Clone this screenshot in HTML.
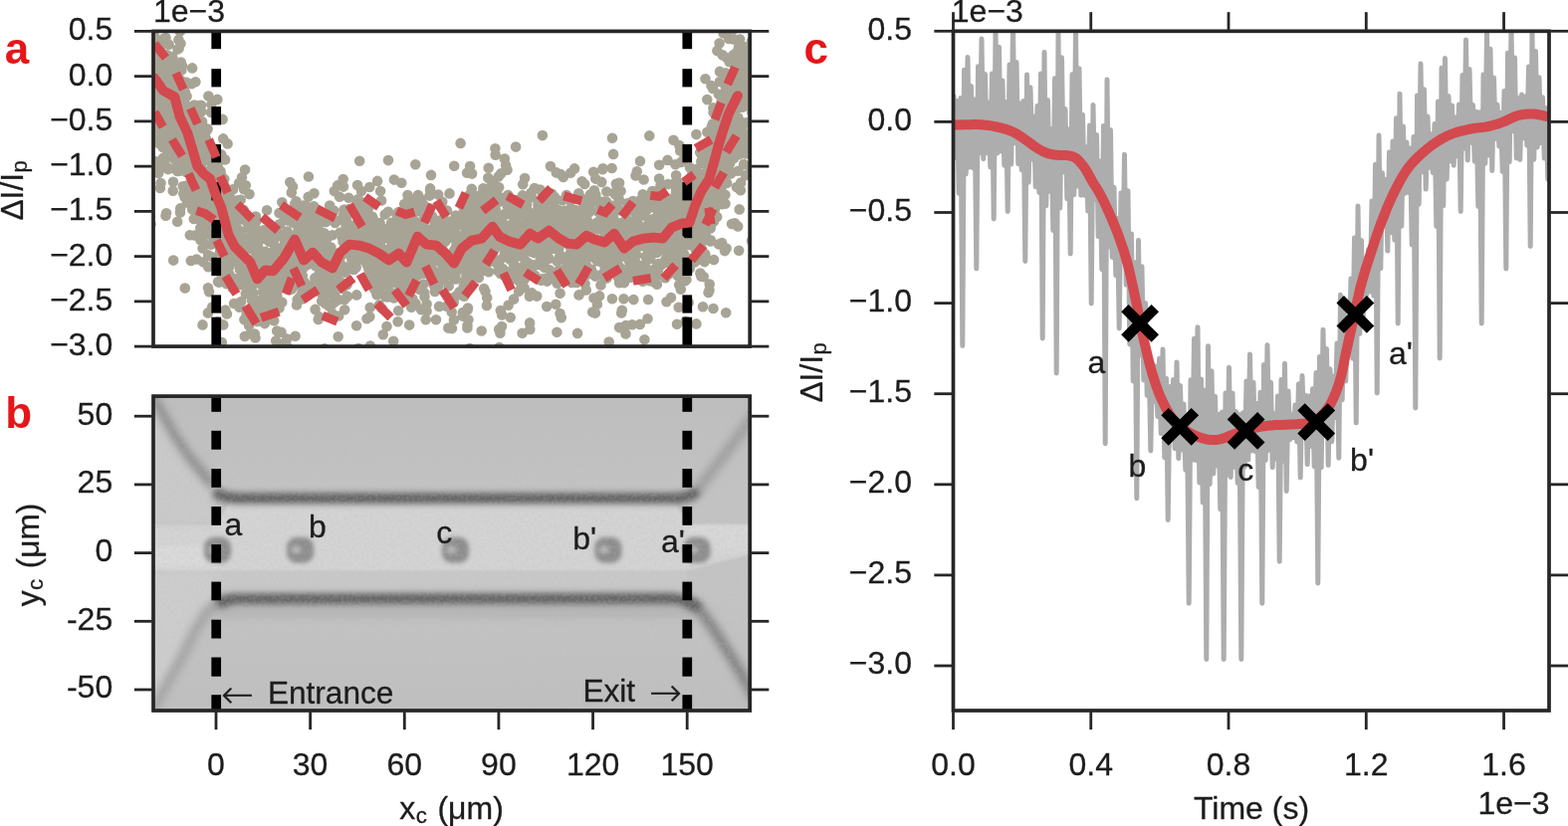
<!DOCTYPE html>
<html lang="en">
<head>
<meta charset="utf-8">
<title>Figure</title>
<style>
html,body{margin:0;padding:0;background:#fff;}
body{width:1575px;height:830px;overflow:hidden;}
svg{display:block;font-family:"Liberation Sans",sans-serif;}
text{stroke:#1c1c1c;stroke-width:0.3px;paint-order:stroke;}
text.pl{stroke:none;}
</style>
</head>
<body>
<svg width="1575" height="830" viewBox="0 0 1575 830">
<rect x="0" y="0" width="1575" height="830" fill="#ffffff"/>
<clipPath id="clipA"><rect x="154.00" y="31.40" width="599.20" height="316.70"/></clipPath>
<path d="M719.0,202.8h0M725.3,99.6h0M161.7,84.2h0M267.6,240.4h0M578.9,269.9h0M578.4,282.0h0M540.5,247.6h0M535.1,266.8h0M560.5,218.9h0M527.1,179.1h0M203.1,122.3h0M716.6,112.9h0M697.5,197.3h0M196.1,177.2h0M172.8,88.8h0M544.1,280.2h0M724.0,129.9h0M737.0,124.4h0M228.7,219.3h0M241.7,200.8h0M215.3,192.8h0M309.9,217.3h0M185.0,109.8h0M465.4,241.6h0M271.8,258.3h0M468.9,230.9h0M201.4,219.7h0M294.4,253.3h0M448.6,307.8h0M174.6,159.2h0M637.6,209.1h0M400.4,222.4h0M664.2,249.8h0M474.5,202.0h0M189.4,186.9h0M209.2,235.4h0M550.2,213.4h0M391.2,254.9h0M714.5,86.1h0M179.6,48.8h0M198.5,200.0h0M330.3,265.1h0M612.4,256.8h0M278.2,332.5h0M316.6,267.0h0M736.6,62.9h0M701.0,231.6h0M520.2,271.8h0M378.7,267.2h0M694.9,205.6h0M693.0,193.3h0M674.7,244.8h0M427.3,212.3h0M188.2,107.9h0M527.2,200.7h0M150.6,216.9h0M287.0,234.5h0M208.9,314.4h0M157.6,60.7h0M326.0,282.0h0M738.2,89.8h0M703.2,153.2h0M376.5,269.2h0M225.0,245.5h0M183.7,106.5h0M441.4,232.4h0M631.9,250.3h0M696.2,196.9h0M641.3,217.8h0M172.3,100.0h0M441.6,221.6h0M241.9,242.1h0M289.6,246.8h0M202.8,197.0h0M491.6,235.4h0M683.7,210.0h0M363.0,251.0h0M723.7,173.9h0M158.0,91.5h0M258.9,270.1h0M737.2,158.9h0M286.0,239.7h0M730.9,118.5h0M619.1,267.2h0M594.8,258.1h0M656.9,192.2h0M593.6,241.1h0M466.8,262.7h0M732.1,94.0h0M753.3,103.1h0M550.2,202.4h0M475.2,231.2h0M291.3,183.0h0M702.1,222.7h0M205.9,141.1h0M612.8,218.2h0M230.7,225.1h0M551.2,260.1h0M413.3,282.0h0M262.7,256.3h0M535.4,266.2h0M227.7,242.6h0M565.9,225.4h0M177.3,120.3h0M623.0,240.4h0M352.7,226.6h0M435.4,263.1h0M580.7,263.7h0M659.2,249.8h0M531.9,297.8h0M647.6,241.6h0M471.3,208.4h0M686.8,255.0h0M209.0,289.3h0M209.2,268.3h0M424.2,254.0h0M704.3,162.3h0M725.7,157.5h0M726.0,138.3h0M731.9,104.5h0M203.3,154.3h0M654.8,249.1h0M193.7,151.0h0M273.6,279.6h0M371.9,220.4h0M666.1,237.6h0M713.0,187.2h0M445.9,220.1h0M166.8,105.3h0M174.4,98.0h0M498.7,233.0h0M717.2,147.5h0M466.1,297.8h0M292.3,270.6h0M722.1,245.4h0M679.7,262.3h0M509.4,206.3h0M389.2,275.1h0M223.9,233.9h0M224.5,225.6h0M357.4,210.6h0M558.0,250.2h0M381.5,283.5h0M647.4,341.2h0M703.4,274.6h0M279.9,282.8h0M403.6,288.5h0M488.2,241.9h0M588.9,232.6h0M638.1,263.1h0M547.1,215.0h0M669.0,263.8h0M596.2,228.6h0M459.8,237.9h0M183.8,146.0h0M736.8,55.0h0M187.1,135.6h0M510.6,306.7h0M197.5,260.5h0M565.0,201.3h0M317.5,254.6h0M163.5,92.5h0M464.0,205.7h0M708.1,178.6h0M167.4,101.9h0M757.7,99.5h0M394.0,282.2h0M384.7,260.8h0M473.9,237.7h0M569.3,261.6h0M188.0,203.4h0M644.7,246.9h0M329.5,269.2h0M732.2,30.2h0M272.2,276.5h0M741.2,227.4h0M273.0,286.9h0M582.0,266.1h0M484.7,234.8h0M203.1,160.0h0M506.8,159.6h0M208.6,222.5h0M469.0,224.9h0M689.5,281.1h0M182.3,128.5h0M149.2,153.2h0M245.3,263.6h0M240.6,231.8h0M201.4,121.6h0M169.2,126.3h0M468.3,270.9h0M640.1,243.3h0M691.1,242.6h0M281.3,249.2h0M731.5,122.2h0M696.1,217.7h0M665.6,233.3h0M680.0,325.8h0M503.4,232.2h0M553.1,203.3h0M441.2,274.2h0M236.9,209.8h0M674.7,244.3h0M170.9,99.3h0M186.9,147.1h0M730.2,78.9h0M504.5,270.9h0M198.3,132.7h0M727.1,139.1h0M289.5,221.6h0M715.3,194.3h0M586.5,222.6h0M622.2,278.9h0M219.4,198.6h0M740.6,149.7h0M452.0,271.9h0M170.3,66.7h0M699.5,170.1h0M297.8,208.9h0M711.2,204.5h0M737.6,62.0h0M390.0,161.1h0M213.2,308.6h0M180.2,120.7h0M226.3,230.2h0M420.4,229.8h0M218.2,232.8h0M722.6,43.5h0M436.7,253.0h0M480.6,223.9h0M237.7,228.7h0M237.0,223.7h0M192.0,188.9h0M476.5,265.7h0M293.0,275.1h0M637.3,253.8h0M450.7,287.4h0M466.1,245.9h0M293.2,258.6h0M720.2,169.4h0M529.4,214.4h0M725.9,55.4h0M232.0,254.1h0M416.2,258.4h0M286.0,245.0h0M296.1,257.9h0M604.8,226.6h0M207.2,140.1h0M168.3,73.9h0M498.0,211.5h0M517.5,209.6h0M656.1,278.0h0M425.5,267.7h0M464.1,263.5h0M401.3,295.3h0M454.0,330.1h0M264.6,286.3h0M514.6,234.5h0M616.1,154.9h0M181.0,164.8h0M211.9,245.8h0M413.5,233.7h0M284.5,248.7h0M248.6,278.7h0M701.9,221.3h0M407.9,210.8h0M403.6,285.7h0M750.1,94.4h0M582.1,245.8h0M702.2,175.9h0M727.7,171.5h0M281.2,285.9h0M170.9,104.3h0M393.1,271.6h0M678.3,235.0h0M562.7,228.0h0M431.6,196.6h0M473.9,278.9h0M487.0,227.8h0M558.3,305.8h0M205.1,159.7h0M712.5,175.5h0M487.5,198.8h0M217.1,171.5h0M652.3,136.4h0M741.6,125.5h0M444.3,246.5h0M340.7,286.3h0M746.7,84.1h0M549.2,308.0h0M556.6,231.6h0M727.7,147.1h0M507.4,241.0h0M728.8,73.4h0M389.9,212.8h0M442.9,280.5h0M202.6,151.6h0M671.9,254.9h0M265.9,325.1h0M733.1,94.7h0M309.7,197.7h0M743.0,147.1h0M686.4,215.9h0M447.4,242.6h0M279.2,291.3h0M534.2,198.0h0M326.3,296.0h0M583.7,262.0h0M484.9,263.1h0M514.4,208.1h0M462.3,267.5h0M171.3,120.0h0M382.8,271.4h0M347.4,238.3h0M641.3,230.1h0M687.1,199.7h0M711.8,168.0h0M395.1,270.1h0M742.7,133.8h0M298.5,261.7h0M630.7,272.6h0M278.6,263.2h0M313.9,254.7h0M519.7,253.1h0M269.5,261.1h0M602.2,230.4h0M371.2,262.6h0M683.8,202.7h0M198.4,149.1h0M656.6,220.1h0M491.8,198.6h0M561.3,237.4h0M253.5,274.6h0M614.3,263.3h0M248.4,219.5h0M703.9,181.0h0M357.7,268.7h0M622.1,201.5h0M300.6,299.0h0M451.5,194.4h0M207.7,179.0h0M407.3,256.6h0M450.9,230.2h0M378.5,236.8h0M708.5,79.3h0M394.6,230.2h0M245.0,190.2h0M484.7,193.8h0M202.1,126.4h0M264.8,238.2h0M678.7,231.2h0M218.9,206.9h0M512.7,319.0h0M173.4,113.4h0M636.8,257.9h0M376.4,247.1h0M179.2,69.2h0M572.8,209.9h0M148.1,96.1h0M587.2,185.0h0M325.8,257.0h0M623.3,247.4h0M536.9,222.4h0M551.6,247.5h0M357.8,228.2h0M242.7,271.5h0M167.1,106.0h0M561.9,258.8h0M347.5,211.7h0M152.4,71.3h0M153.9,84.9h0M507.4,249.1h0M292.3,240.5h0M457.3,276.5h0M395.8,296.7h0M229.5,204.2h0M755.0,241.9h0M645.7,195.3h0M163.5,148.0h0M415.5,255.8h0M197.5,159.8h0M750.1,49.6h0M366.2,280.5h0M466.9,251.0h0M681.1,261.6h0M607.0,273.0h0M664.7,234.1h0M382.5,252.5h0M668.3,279.2h0M367.5,226.4h0M501.5,261.9h0M402.9,215.3h0M753.9,97.1h0M297.8,235.8h0M616.9,254.6h0M665.2,205.7h0M681.2,223.3h0M515.8,254.4h0M192.2,129.9h0M731.4,86.4h0M682.3,146.0h0M670.5,160.9h0M305.4,257.9h0M548.1,227.8h0M584.6,182.2h0M494.9,259.6h0M658.0,205.4h0M300.3,237.9h0M698.1,204.6h0M697.7,208.6h0M702.3,202.5h0M195.3,136.6h0M584.6,199.8h0M206.7,234.5h0M424.7,204.7h0M441.5,232.1h0M584.8,222.7h0M540.1,235.6h0M552.3,223.0h0M548.4,224.3h0M221.4,186.1h0M432.1,190.7h0M193.1,143.2h0M204.1,145.9h0M688.4,219.8h0M276.4,304.0h0M413.4,266.1h0M472.1,167.0h0M749.7,154.4h0M738.0,224.2h0M742.9,190.3h0M160.3,56.0h0M729.9,85.4h0M626.9,232.5h0M592.0,224.3h0M231.8,247.9h0M562.5,260.7h0M197.1,106.3h0M443.3,257.9h0M340.2,317.5h0M568.7,280.0h0M325.7,238.9h0M471.8,350.1h0M751.5,153.2h0M437.0,253.2h0M579.9,242.8h0M213.2,258.3h0M676.3,232.5h0M600.4,212.5h0M220.5,210.5h0M159.7,94.0h0M532.8,198.5h0M719.3,179.2h0M553.7,249.8h0M336.3,303.5h0M148.7,113.9h0M377.0,239.4h0M205.1,204.7h0M521.8,282.7h0M210.6,182.1h0M428.6,312.6h0M558.5,249.6h0M303.5,300.4h0M737.7,133.7h0M564.2,221.1h0M281.6,225.1h0M705.4,186.9h0M496.9,209.4h0M173.4,88.1h0M243.3,263.1h0M272.2,293.5h0M694.0,177.9h0M372.1,231.0h0M419.4,242.3h0M153.3,51.9h0M361.1,261.1h0M586.8,262.6h0M598.3,260.0h0M480.7,246.9h0M399.4,239.9h0M188.5,145.2h0M154.0,65.0h0M634.6,258.7h0M699.4,243.8h0M272.7,286.3h0M509.7,229.4h0M614.3,236.7h0M715.6,161.0h0M218.9,183.4h0M350.2,198.7h0M514.7,237.0h0M489.2,299.2h0M185.9,111.9h0M280.5,225.6h0M724.6,189.1h0M314.8,226.9h0M650.2,259.3h0M296.0,270.7h0M687.0,188.2h0M640.2,231.8h0M166.5,216.8h0M574.7,230.5h0M738.7,143.8h0M180.9,115.9h0M222.2,175.7h0M735.7,137.4h0M255.5,309.6h0M488.1,254.0h0M713.9,241.2h0M686.1,220.8h0M469.7,311.2h0M171.0,142.8h0M673.8,234.9h0M566.8,211.9h0M196.6,148.7h0M599.3,276.6h0M514.1,238.0h0M170.6,63.7h0M585.7,221.3h0M510.4,259.0h0M288.8,348.8h0M629.3,220.6h0M254.8,235.4h0M668.6,232.2h0M602.6,209.3h0M234.6,279.7h0M599.8,262.2h0M484.2,220.4h0M202.1,168.2h0M445.6,274.6h0M502.8,232.9h0M716.1,177.2h0M641.9,237.2h0M540.5,205.4h0M700.9,214.1h0M571.3,213.3h0M274.6,274.3h0M185.6,97.1h0M385.8,265.1h0M215.9,200.4h0M483.1,235.0h0M210.4,190.8h0M712.5,291.4h0M512.1,273.1h0M723.7,199.7h0M738.8,87.3h0M618.9,263.9h0M414.9,221.3h0M465.0,215.2h0M653.8,251.4h0M359.6,231.8h0M630.5,258.6h0M579.7,247.9h0M237.1,263.3h0M206.1,233.9h0M271.5,288.7h0M401.6,236.0h0M711.0,171.2h0M581.5,296.4h0M294.0,223.6h0M177.0,123.5h0M433.9,235.0h0M548.1,205.8h0M341.1,197.7h0M370.4,279.1h0M366.4,213.2h0M662.3,245.1h0M570.1,229.0h0M446.7,278.6h0M471.8,195.5h0M514.7,209.9h0M486.0,205.2h0M153.5,65.5h0M209.1,217.5h0M407.2,239.9h0M391.6,240.8h0M539.8,253.9h0M609.3,192.6h0M230.6,263.3h0M746.1,83.6h0M243.5,262.0h0M608.4,227.1h0M303.8,277.1h0M429.2,212.6h0M201.6,155.1h0M530.1,221.6h0M613.2,219.6h0M681.2,207.8h0M187.8,198.9h0M332.0,263.9h0M154.6,92.8h0M455.6,239.6h0M205.7,136.7h0M255.9,226.6h0M157.7,82.5h0M745.8,62.6h0M270.7,264.1h0M476.7,225.8h0M515.7,264.5h0M472.3,243.2h0M377.2,264.3h0M238.2,216.1h0M157.7,90.1h0M361.5,245.9h0M163.6,86.0h0M718.7,167.9h0M180.1,86.5h0M374.0,243.7h0M652.8,282.2h0M740.0,92.7h0M185.3,105.5h0M729.7,152.0h0M360.4,211.0h0M613.7,250.6h0M618.6,211.7h0M327.1,255.1h0M628.5,241.6h0M661.6,217.3h0M591.5,256.0h0M242.3,265.0h0M385.1,258.6h0M314.3,215.2h0M422.7,234.5h0M533.7,253.0h0M703.5,191.7h0M214.6,197.2h0M185.3,164.4h0M743.3,151.9h0M285.4,253.7h0M592.6,228.4h0M150.2,64.8h0M738.6,20.9h0M532.2,216.9h0M527.0,215.7h0M189.3,131.5h0M552.9,167.1h0M631.8,260.1h0M285.1,250.6h0M703.4,203.5h0M400.2,312.3h0M206.3,190.8h0M684.1,248.1h0M335.3,270.6h0M642.8,325.9h0M674.6,218.8h0M404.9,285.9h0M331.9,256.1h0M161.5,184.1h0M312.6,247.2h0M376.7,284.8h0M272.6,307.5h0M427.2,236.8h0M198.3,149.8h0M492.4,190.0h0M512.8,278.0h0M748.9,144.6h0M471.1,227.4h0M683.8,187.1h0M624.2,314.5h0M219.1,199.7h0M433.8,236.1h0M638.1,209.6h0M614.5,235.0h0M648.2,233.3h0M453.1,261.9h0M228.5,208.4h0M253.8,261.0h0M733.3,145.9h0M732.0,132.4h0M196.1,144.1h0M329.4,276.3h0M195.1,207.0h0M169.6,44.7h0M594.0,245.4h0M167.1,214.2h0M227.7,279.0h0M164.3,64.7h0M375.9,235.0h0M195.9,160.3h0M736.7,137.9h0M150.5,98.1h0M440.8,235.5h0M327.3,258.4h0M302.5,285.4h0M431.6,242.0h0M696.9,228.6h0M216.0,168.7h0M457.8,280.5h0M750.1,139.8h0M531.4,224.5h0M524.6,334.7h0M355.4,270.9h0M327.4,274.8h0M579.6,240.3h0M150.2,107.3h0M438.0,321.3h0M378.6,239.8h0M270.2,266.5h0M175.1,91.5h0M343.9,290.0h0M664.2,264.7h0M192.1,149.4h0M717.5,152.9h0M689.7,203.9h0M728.1,128.6h0M645.9,272.6h0M383.5,284.2h0M493.8,220.7h0M706.8,211.4h0M669.5,259.0h0M334.6,298.0h0M267.2,237.1h0M559.7,284.7h0M738.4,39.9h0M424.3,206.2h0M289.0,272.0h0M481.5,231.7h0M168.3,72.9h0M217.6,201.5h0M391.8,268.1h0M714.4,182.7h0M411.5,271.4h0M181.6,80.9h0M401.4,256.3h0M545.4,230.6h0M569.0,268.6h0M223.8,207.5h0M407.8,299.1h0M438.6,231.0h0M480.2,202.0h0M509.3,247.8h0M745.1,46.2h0M548.3,234.1h0M466.8,208.0h0M607.2,266.6h0M427.2,270.7h0M412.0,255.9h0M279.0,252.7h0M577.9,211.0h0M463.5,262.8h0M230.3,275.5h0M421.0,267.9h0M584.8,234.2h0M717.8,211.1h0M648.5,257.8h0M219.9,159.2h0M240.1,211.5h0M159.0,141.7h0M687.7,221.0h0M450.8,270.9h0M166.9,60.1h0M304.0,260.3h0M557.0,197.9h0M264.8,231.3h0M493.0,216.3h0M547.7,246.1h0M560.7,211.1h0M324.5,297.0h0M580.4,244.5h0M224.2,139.4h0M418.0,206.0h0M155.1,36.4h0M462.8,246.5h0M244.4,215.0h0M638.3,273.6h0M735.0,131.4h0M523.3,242.8h0M632.8,228.6h0M185.9,138.2h0M151.5,225.3h0M298.6,301.3h0M223.8,252.7h0M202.2,112.3h0M611.9,272.1h0M178.5,49.4h0M340.2,269.5h0M544.1,266.8h0M233.8,236.8h0M534.2,294.4h0M500.3,272.2h0M693.5,214.0h0M207.1,149.1h0M433.0,175.9h0M199.5,192.4h0M384.8,336.3h0M720.4,51.1h0M544.0,214.8h0M309.7,292.4h0M633.5,227.0h0M705.5,237.8h0M309.9,224.1h0M759.3,31.4h0M693.3,241.5h0M517.4,208.5h0M171.1,72.5h0M358.1,237.2h0M164.2,99.2h0M692.9,168.2h0M525.6,245.4h0M215.4,177.6h0M677.8,245.5h0M678.7,256.2h0M628.7,327.0h0M683.2,151.4h0M256.0,278.6h0M299.8,263.1h0M733.0,155.5h0M381.0,306.5h0M211.9,206.8h0M677.4,199.5h0M224.7,193.2h0M283.3,345.8h0M319.2,231.7h0M432.1,189.4h0M458.3,253.1h0M269.1,260.4h0M440.6,232.6h0M193.2,190.2h0M304.7,206.6h0M728.2,250.6h0M722.0,167.4h0M756.1,173.8h0M280.5,309.4h0M489.5,220.2h0M227.3,224.2h0M339.5,258.0h0M455.1,234.9h0M370.2,222.3h0M454.3,254.6h0M485.0,254.5h0M359.6,240.6h0M238.6,222.0h0M295.1,262.9h0M706.8,214.4h0M209.1,175.4h0M226.1,160.4h0M639.8,172.2h0M423.3,206.2h0M370.8,275.2h0M570.7,241.1h0M237.2,228.9h0M501.5,349.1h0M203.5,208.1h0M590.1,238.9h0M702.2,247.6h0M663.6,235.4h0M617.4,229.3h0M150.5,85.5h0M622.5,268.6h0M697.7,192.8h0M699.7,221.1h0M178.7,28.1h0M186.9,149.6h0M211.9,178.1h0M675.5,231.8h0M732.6,62.3h0M411.9,219.8h0M515.6,242.8h0M559.4,333.7h0M442.2,242.2h0M178.7,66.8h0M313.6,263.7h0M350.3,251.5h0M716.6,156.9h0M691.6,304.1h0M705.9,234.6h0M323.8,247.5h0M558.1,225.1h0M470.0,309.5h0M209.5,208.1h0M285.2,272.8h0M569.0,196.1h0M377.8,237.4h0M666.9,206.7h0M388.5,328.0h0M210.7,152.0h0M231.7,206.0h0M506.6,232.3h0M594.2,249.7h0M699.8,220.3h0M210.1,293.2h0M553.9,232.9h0M586.5,241.4h0M259.2,233.4h0M732.8,154.0h0M203.0,239.5h0M230.2,227.9h0M217.3,243.5h0M221.4,174.7h0M606.6,228.8h0M607.0,239.2h0M205.0,143.6h0M527.7,241.3h0M591.4,213.8h0M692.8,269.7h0M617.3,211.9h0M211.9,191.9h0M231.8,261.3h0M224.8,269.7h0M246.8,186.3h0M252.5,250.3h0M206.9,174.6h0M306.4,256.4h0M686.5,276.1h0M335.8,192.1h0M456.7,231.3h0M587.6,285.2h0M704.9,155.5h0M470.2,235.7h0M514.7,209.8h0M177.4,97.6h0M208.7,183.6h0M224.2,214.3h0M566.3,236.9h0M209.7,201.5h0M674.2,249.6h0M288.6,232.6h0M186.9,153.5h0M173.6,127.5h0M262.3,286.0h0M717.1,143.4h0M465.8,287.2h0M182.9,170.3h0M160.9,189.0h0M378.6,264.2h0M238.4,244.0h0M177.9,165.4h0M462.6,293.9h0M202.9,209.8h0M434.1,217.4h0M437.9,246.3h0M749.5,67.0h0M191.8,262.0h0M176.9,75.3h0M742.8,155.0h0M388.3,231.9h0M635.0,326.3h0M734.1,143.0h0M369.0,232.3h0M456.4,279.9h0M152.5,71.6h0M734.9,85.6h0M208.1,235.0h0M590.6,222.7h0M739.9,188.0h0M408.1,298.3h0M434.2,240.5h0M743.4,102.9h0M475.2,210.5h0M347.9,219.8h0M301.8,243.3h0M713.0,161.0h0M400.3,230.6h0M699.4,135.1h0M353.3,260.6h0M620.3,241.7h0M487.5,292.7h0M257.3,257.3h0M229.4,283.9h0M646.8,235.1h0M697.4,180.4h0M708.3,149.8h0M509.6,205.9h0M581.3,214.7h0M524.9,196.4h0M370.9,284.8h0M269.3,307.6h0M727.6,158.1h0M691.9,214.2h0M469.7,244.0h0M750.5,89.9h0M246.0,276.8h0M173.0,90.3h0M549.9,251.9h0M715.0,149.3h0M598.8,240.5h0M573.2,173.7h0M230.2,216.0h0M339.1,254.6h0M166.2,77.2h0M501.1,242.7h0M524.5,287.9h0M208.1,130.4h0M730.1,184.0h0M181.3,144.2h0M627.3,234.9h0M502.8,275.0h0M158.8,63.0h0M173.7,79.8h0M747.1,135.8h0M334.9,284.1h0M716.6,151.1h0M710.4,132.7h0M373.9,217.6h0M444.3,202.8h0M527.6,250.2h0M247.6,222.7h0M726.6,168.5h0M459.6,244.2h0M686.6,206.0h0M253.7,275.7h0M392.4,282.2h0M197.8,138.6h0M636.4,301.1h0M628.2,243.3h0M595.2,313.6h0M304.5,296.9h0M328.6,249.8h0M644.4,204.1h0M190.8,236.3h0M323.5,295.4h0M508.1,244.2h0M719.1,160.4h0M394.6,250.0h0M335.6,267.3h0M218.4,239.9h0M198.0,159.1h0M304.1,231.9h0M683.6,238.0h0M395.2,262.1h0M616.0,218.5h0M702.9,224.1h0M681.6,184.7h0M399.4,252.3h0M650.2,230.2h0M413.4,230.7h0M717.0,261.1h0M264.7,291.3h0M168.6,123.9h0M154.9,87.5h0M648.7,203.7h0M364.5,220.9h0M160.4,132.0h0M554.7,201.2h0M423.1,311.3h0M188.0,168.2h0M587.2,262.9h0M208.8,224.4h0M728.6,114.3h0M193.6,175.8h0M609.3,202.9h0M264.2,294.0h0M479.2,231.2h0M751.6,142.8h0M742.5,55.9h0M163.8,158.9h0M615.8,217.9h0M571.0,270.1h0M166.9,62.0h0M287.2,244.5h0M441.3,206.2h0M586.8,225.3h0M562.6,294.8h0M244.7,211.1h0M636.8,232.9h0M329.5,290.3h0M303.3,294.4h0M382.1,247.4h0M734.3,85.3h0M618.9,184.7h0M318.2,289.9h0M671.5,275.8h0M222.3,155.4h0M336.6,223.9h0M697.4,211.3h0M207.4,231.6h0M699.1,187.3h0M183.8,100.0h0M379.9,238.4h0M186.7,130.2h0M643.5,247.1h0M212.4,104.9h0M593.9,270.8h0M432.7,218.1h0M672.2,211.3h0M165.5,131.4h0M602.9,262.8h0M658.6,269.4h0M702.2,198.2h0M212.0,113.0h0M249.2,286.1h0M580.1,217.9h0M360.1,350.0h0M161.6,82.4h0M647.6,247.8h0M417.3,165.3h0M705.9,179.0h0M505.0,270.1h0M680.1,250.5h0M178.4,103.0h0M586.3,252.5h0M348.5,286.2h0M303.6,290.4h0M440.0,283.8h0M268.5,256.5h0M664.5,266.0h0M515.5,249.5h0M283.3,203.3h0M453.2,222.8h0M175.0,152.9h0M730.1,113.0h0M615.7,206.7h0M168.0,122.3h0M387.1,298.1h0M624.6,223.8h0M668.8,236.0h0M200.5,170.3h0M717.7,150.7h0M581.0,243.7h0M714.7,176.6h0M162.5,96.5h0M682.7,191.2h0M713.8,160.8h0M607.3,206.0h0M341.5,233.8h0M581.4,270.6h0M528.8,210.7h0M685.9,161.6h0M551.6,202.2h0M634.1,276.8h0M298.0,306.5h0M209.9,198.0h0M382.7,237.2h0M270.5,233.2h0M676.9,225.2h0M707.3,241.4h0M224.3,326.4h0M758.1,120.0h0M432.9,251.1h0M526.9,229.4h0M228.0,206.3h0M286.3,284.5h0M510.3,196.0h0M416.7,277.6h0M161.6,88.0h0M710.3,100.1h0M421.7,291.0h0M744.1,69.7h0M542.9,213.9h0M404.8,278.8h0M706.4,198.0h0M210.5,200.8h0M340.8,285.5h0M754.9,120.5h0M707.7,263.1h0M735.6,104.2h0M622.1,183.8h0M391.0,260.6h0M373.5,242.8h0M414.6,268.0h0M688.3,258.4h0M705.3,218.6h0M244.7,247.2h0M437.7,245.8h0M406.7,253.8h0M208.5,235.2h0M439.5,287.3h0M169.4,108.0h0M711.6,294.0h0M247.8,249.0h0M469.5,326.9h0M592.1,209.0h0M648.5,239.7h0M486.2,290.0h0M311.7,213.1h0M263.1,267.9h0M417.7,228.0h0M563.7,257.2h0M256.3,247.8h0M173.4,69.8h0M368.9,252.8h0M244.5,259.7h0M220.7,223.8h0M744.5,101.9h0M278.6,309.0h0M389.3,298.4h0M177.5,130.1h0M346.1,300.9h0M207.4,153.7h0M322.8,222.1h0M181.2,148.3h0M721.4,188.2h0M218.6,179.3h0M742.2,251.8h0M163.5,96.0h0M652.0,250.9h0M162.6,108.5h0M590.1,252.6h0M221.1,273.7h0M198.4,144.7h0M756.0,66.6h0M598.2,179.6h0M201.0,194.0h0M563.8,319.2h0M418.7,251.0h0M544.0,248.3h0M240.9,270.7h0M486.2,204.2h0M206.0,135.9h0M512.9,281.5h0M465.1,205.4h0M684.2,199.8h0M215.5,189.2h0M317.4,263.1h0M685.2,249.3h0M744.3,51.5h0M159.2,73.4h0M648.7,273.7h0M599.5,256.1h0M402.5,290.3h0M246.8,269.7h0M701.5,260.2h0M758.9,33.4h0M667.3,245.9h0M315.9,254.2h0M511.9,226.2h0M413.2,259.0h0M154.8,135.2h0M527.2,203.1h0M596.5,245.9h0M440.2,195.5h0M493.2,262.5h0M732.9,143.6h0M238.9,201.2h0M551.1,236.1h0M157.8,78.3h0M749.3,78.5h0M662.1,233.0h0M215.8,182.1h0M208.6,129.6h0M206.2,224.5h0M502.6,235.5h0M471.3,213.9h0M414.5,258.4h0M289.1,264.3h0M670.9,185.1h0M226.5,222.0h0M171.8,147.6h0M728.8,150.6h0M697.2,210.3h0M607.1,218.7h0M662.6,225.6h0M708.8,236.5h0M262.3,258.2h0M473.8,189.7h0M218.6,166.7h0M369.2,237.8h0M536.0,227.8h0M490.7,168.7h0M598.7,300.2h0M225.6,232.8h0M263.5,307.1h0M379.9,247.2h0M671.6,228.0h0M577.1,169.4h0M224.3,256.2h0M729.6,57.8h0M747.0,107.1h0M438.9,237.6h0M480.9,263.3h0M402.6,241.0h0M411.2,326.6h0M545.0,261.9h0M530.3,264.1h0M198.3,135.2h0M203.9,197.6h0M161.9,114.2h0M741.7,90.0h0M532.7,244.2h0M664.4,225.0h0M729.2,314.3h0M350.2,250.4h0M557.2,241.4h0M542.5,263.8h0M689.9,228.1h0M250.1,327.2h0M377.5,249.5h0M320.6,318.4h0M605.0,227.1h0M670.1,252.8h0M742.9,155.1h0M680.0,189.4h0M397.5,250.9h0M713.6,229.4h0M152.9,79.0h0M577.2,228.2h0M185.7,143.6h0M400.4,271.9h0M704.3,154.5h0M571.4,234.0h0M717.9,160.9h0M503.9,241.0h0M155.8,166.9h0M621.7,246.0h0M248.2,267.1h0M593.4,195.5h0M534.6,269.2h0M168.8,170.1h0M230.8,194.8h0M375.9,289.9h0M179.8,100.4h0M346.2,311.3h0M171.9,80.2h0M151.9,121.6h0M698.2,177.1h0M257.4,301.9h0M198.2,135.0h0M440.5,242.3h0M697.8,238.8h0M698.3,231.1h0M184.2,152.6h0M661.1,265.4h0M257.5,222.3h0M160.6,126.7h0M249.4,229.0h0M679.0,206.4h0M585.1,267.7h0M358.8,206.2h0M737.4,28.9h0M210.1,154.7h0M682.5,248.0h0M574.2,284.0h0M431.8,209.4h0M491.0,217.9h0M737.2,100.0h0M690.5,243.1h0M735.0,225.0h0M247.8,239.4h0M223.8,250.1h0M543.0,228.0h0M460.9,237.4h0M737.0,142.4h0M532.1,324.4h0M302.5,260.4h0M642.0,240.4h0M608.4,214.1h0M704.2,189.6h0M720.3,188.9h0M241.9,278.3h0M540.5,208.5h0M326.5,291.2h0M723.0,82.0h0M220.1,245.6h0M625.5,252.4h0M631.6,226.0h0M702.1,203.7h0M468.4,276.9h0M230.1,224.4h0M412.2,228.7h0M609.2,264.0h0M654.4,199.1h0M201.1,168.4h0M162.3,58.4h0M319.7,286.9h0M684.7,216.9h0M224.9,186.1h0M335.9,291.8h0M498.3,226.8h0M734.8,117.8h0M306.1,248.2h0M426.2,294.2h0M163.9,120.3h0M243.9,247.1h0M695.8,238.8h0M679.4,241.1h0M594.7,227.3h0M462.6,143.9h0M500.7,177.4h0M731.8,168.4h0M295.7,273.7h0M610.8,246.0h0M595.4,257.3h0M712.5,222.5h0M649.3,248.6h0M695.5,220.5h0M245.8,338.0h0M289.5,291.3h0M165.7,92.6h0M206.0,190.8h0M176.3,79.6h0M516.5,229.9h0M426.4,246.8h0M181.8,62.5h0M180.2,171.7h0M434.9,274.9h0M538.0,266.3h0M684.6,254.8h0M456.3,251.2h0M368.5,320.3h0M324.8,261.3h0M671.3,199.6h0M589.2,267.0h0M645.7,282.7h0M730.1,109.6h0M253.2,302.2h0M301.6,220.6h0M392.4,255.8h0M609.7,218.7h0M453.4,222.2h0M688.1,282.3h0M718.2,179.4h0M501.3,227.3h0M496.1,237.8h0M723.8,126.7h0M322.7,215.5h0M421.1,225.0h0M729.6,104.8h0M256.5,339.4h0M267.4,283.4h0M271.2,289.7h0M213.0,195.9h0M509.5,170.7h0M322.4,251.8h0M189.4,197.6h0M395.0,257.3h0M232.0,219.9h0M209.4,96.5h0M708.6,198.2h0M573.0,253.9h0M321.8,262.1h0M205.2,183.8h0M644.6,202.0h0M228.7,268.2h0M692.9,231.8h0M293.0,290.6h0M586.4,230.6h0M602.1,297.4h0M686.8,222.1h0M577.4,261.8h0M360.6,218.2h0M289.7,248.8h0M674.0,299.1h0M635.5,266.3h0M689.9,236.1h0M552.1,271.2h0M464.8,317.6h0M635.5,240.9h0M216.9,176.4h0M502.6,330.7h0M198.2,200.6h0M388.6,279.6h0M355.7,243.4h0M616.0,251.4h0M167.1,122.2h0M212.2,212.5h0M673.6,245.3h0M643.3,210.8h0M477.8,216.5h0M504.4,242.3h0M570.9,267.6h0M651.9,223.9h0M461.2,265.9h0M156.7,93.9h0M619.4,190.7h0M219.0,283.2h0M276.8,302.2h0M214.6,239.8h0M170.0,95.9h0M632.7,266.8h0M179.5,164.4h0M334.5,261.6h0M372.3,281.4h0M316.6,310.9h0M181.0,213.4h0M488.2,226.8h0M186.3,124.1h0M511.0,246.9h0M276.1,249.5h0M635.5,224.6h0M203.4,173.4h0M159.6,60.2h0M660.8,245.7h0M470.9,220.6h0M500.1,266.2h0M751.0,83.9h0M752.8,24.5h0M426.8,207.3h0M221.1,253.0h0M153.0,82.4h0M150.7,164.5h0M678.3,183.4h0M247.0,319.3h0M338.7,259.9h0M368.5,262.5h0M212.4,173.9h0M680.9,277.3h0M231.3,237.8h0M265.2,274.3h0M211.5,214.1h0M453.7,313.4h0M222.8,182.2h0M458.9,268.6h0M637.4,213.1h0M326.1,272.3h0M224.2,223.1h0M447.8,261.5h0M415.2,221.0h0M167.9,133.0h0M370.8,239.1h0M559.7,262.4h0M419.0,225.3h0M650.9,202.1h0M743.2,131.5h0M406.6,282.3h0M643.0,161.9h0M275.3,280.5h0M323.2,302.6h0M161.8,86.2h0M686.7,160.3h0M170.4,134.8h0M681.3,202.7h0M262.4,284.2h0M384.5,239.7h0M739.5,102.2h0M566.6,237.2h0M706.6,211.3h0M755.3,66.2h0M170.2,148.6h0M688.3,241.7h0M749.2,123.4h0M195.3,182.5h0M177.4,103.6h0M148.9,86.5h0M314.4,217.8h0M466.5,254.0h0M287.5,281.9h0M295.1,258.1h0M308.3,266.3h0M194.1,167.7h0M532.3,331.0h0M415.0,222.9h0M460.4,241.4h0M460.5,263.6h0M238.7,243.4h0M495.8,188.9h0M523.9,288.0h0M182.3,70.6h0M222.4,196.2h0M582.2,257.5h0M507.2,255.4h0M695.1,212.9h0M201.2,221.1h0M716.1,89.0h0M737.8,88.0h0M371.4,318.2h0M185.3,142.7h0M405.4,220.1h0M663.5,266.7h0M616.4,212.8h0M326.4,287.8h0M548.3,241.0h0M374.7,219.6h0M296.4,265.9h0M592.6,237.2h0M597.9,314.6h0M529.2,205.4h0M477.4,223.0h0M205.2,245.2h0M684.1,162.9h0M329.9,270.5h0M442.4,223.1h0M449.5,234.0h0M547.9,227.8h0M181.2,209.4h0M635.2,244.0h0M409.0,296.5h0M509.3,214.9h0M260.5,310.5h0M679.1,190.3h0M604.3,223.3h0M549.4,220.8h0M281.5,267.0h0M262.5,258.0h0M680.1,274.6h0M491.8,223.7h0M163.0,64.1h0M226.7,230.4h0M218.8,245.1h0M380.8,255.5h0M149.2,106.3h0M187.5,164.4h0M547.1,238.0h0M159.2,142.1h0M748.1,49.7h0M312.4,218.2h0M311.7,215.8h0M643.2,231.0h0M641.1,202.2h0M393.2,225.5h0M573.0,224.6h0M342.2,286.0h0M242.2,303.0h0M299.6,280.8h0M705.1,204.1h0M446.5,223.4h0M740.9,136.4h0M175.0,115.7h0M316.8,239.3h0M424.9,256.5h0M404.8,268.8h0M425.0,212.7h0M480.8,279.1h0M532.7,229.9h0M586.7,240.1h0M616.5,227.2h0M159.4,114.2h0M558.5,236.1h0M363.6,222.9h0M655.2,192.1h0M410.0,199.4h0M317.3,239.3h0M730.5,78.2h0M409.9,266.4h0M211.5,221.1h0M168.9,117.8h0M286.5,219.2h0M400.2,285.8h0M199.5,210.4h0M204.2,175.8h0M504.3,239.2h0M737.9,140.2h0M410.3,205.5h0M265.8,300.6h0M389.8,250.5h0M227.9,315.4h0M604.7,220.2h0M268.7,296.8h0M184.3,154.7h0M635.4,222.2h0M370.3,268.5h0M307.6,224.8h0M556.1,205.0h0M741.3,118.0h0M414.4,228.2h0M366.1,242.1h0M464.1,253.1h0M339.3,269.8h0M221.5,171.9h0M486.9,219.4h0M653.4,274.6h0M718.8,157.0h0M189.7,164.1h0M177.4,82.7h0M376.1,265.7h0M354.7,270.0h0M173.3,64.3h0M668.6,211.7h0M726.7,33.5h0M225.4,255.2h0M349.5,229.3h0M587.4,261.8h0M645.2,351.5h0M172.4,78.9h0M280.7,265.7h0M543.5,281.8h0M217.9,154.9h0M201.4,241.2h0M154.3,130.0h0M354.9,233.1h0M305.9,283.6h0M353.7,212.7h0M708.7,180.8h0M252.3,240.1h0M247.7,268.5h0M320.2,262.0h0M409.5,196.0h0M504.5,219.1h0M154.3,86.2h0M565.8,178.0h0M497.7,155.8h0M646.9,234.8h0M286.4,250.1h0M742.7,210.4h0M247.6,316.2h0M734.2,131.7h0M670.3,255.2h0M181.4,124.2h0M413.9,236.9h0M712.4,159.5h0M313.3,245.9h0M436.8,280.3h0M611.4,235.3h0M350.7,228.0h0M732.4,92.1h0M283.3,303.7h0M688.4,224.8h0M483.7,332.5h0M676.5,140.8h0M453.2,236.0h0M308.2,211.7h0M214.7,159.2h0M321.7,242.6h0M722.2,152.1h0M603.5,286.4h0M176.5,144.6h0M676.3,246.4h0M327.3,223.1h0M466.0,210.6h0M157.2,59.3h0M392.3,259.3h0M332.2,279.8h0M421.7,223.6h0M294.0,187.4h0M686.9,238.0h0M603.2,214.8h0M483.0,253.4h0M165.9,91.9h0M650.1,210.6h0M382.9,275.1h0M719.5,161.6h0M744.4,86.1h0M693.4,204.5h0M563.1,175.1h0M333.9,236.2h0M740.2,52.2h0M326.8,304.9h0M409.6,220.5h0M648.9,268.9h0M253.8,248.2h0M200.5,210.6h0M347.3,245.2h0M240.5,308.8h0M165.2,112.9h0M715.5,137.0h0M463.3,256.8h0M181.3,119.2h0M488.0,207.9h0M346.2,250.8h0M613.8,211.5h0M606.2,253.8h0M515.1,212.1h0M430.0,231.0h0M581.1,241.2h0M256.9,217.6h0M491.0,200.8h0M485.3,264.9h0M184.3,100.2h0M512.5,228.6h0M729.3,142.2h0M734.1,109.8h0M611.1,231.3h0M458.2,247.6h0M330.3,307.4h0M284.1,215.2h0M572.5,242.4h0M160.6,78.9h0M185.6,98.9h0M721.4,143.0h0M450.8,271.3h0M335.3,281.6h0M187.4,82.9h0M735.1,132.4h0M622.7,235.6h0M683.2,213.2h0M484.7,217.5h0M743.2,126.9h0M732.1,39.0h0M571.1,245.9h0M155.3,60.1h0M178.1,122.5h0M194.8,134.5h0M597.9,277.6h0M621.3,198.5h0M716.5,310.0h0M170.5,169.3h0M193.5,197.2h0M455.7,303.9h0M465.7,243.5h0M704.4,277.8h0M361.6,251.8h0M735.6,90.6h0M209.8,154.1h0M166.8,88.6h0M469.7,244.9h0M597.0,247.6h0M419.6,236.4h0M727.7,102.2h0M642.4,239.0h0M543.2,241.4h0M559.5,229.4h0M403.3,183.7h0M515.2,229.3h0M274.3,288.8h0M730.1,175.4h0M168.9,78.4h0M713.0,213.0h0M230.4,267.7h0M678.4,165.2h0M543.1,222.1h0M752.1,146.0h0M589.9,275.8h0M310.9,235.2h0M333.9,315.1h0M173.1,100.5h0M574.7,277.0h0M266.2,260.1h0M201.6,195.6h0M629.0,244.0h0M695.3,230.8h0M158.8,120.7h0M594.0,243.3h0M676.5,226.8h0M223.1,275.3h0M627.3,257.6h0M344.7,180.1h0M280.0,265.4h0M365.4,223.5h0M173.7,191.8h0M209.7,193.3h0M647.3,216.7h0M304.8,268.9h0M380.6,257.7h0M370.7,207.9h0M222.3,235.9h0M718.2,146.9h0M398.6,276.0h0M419.9,196.1h0M474.2,258.0h0M196.3,127.0h0M661.5,251.4h0M596.8,230.3h0M406.2,223.3h0M176.5,123.1h0M293.0,259.6h0M712.7,285.5h0M618.4,250.4h0M521.5,250.6h0M558.9,217.3h0M691.8,259.7h0M417.5,305.0h0M198.8,129.6h0M679.2,193.4h0M219.8,283.8h0M704.3,175.1h0M712.3,146.6h0M416.3,246.3h0M154.7,50.9h0M191.5,138.5h0M740.2,100.1h0M236.2,258.7h0M184.7,90.6h0M626.6,232.0h0M426.4,243.6h0M684.3,213.3h0M402.9,214.8h0M358.1,327.2h0M415.3,265.1h0M510.3,252.8h0M184.0,121.5h0M240.0,184.0h0M268.1,211.3h0M465.4,268.4h0M570.0,275.5h0M533.4,193.7h0M513.3,208.5h0M280.4,260.4h0M357.8,247.9h0M689.2,276.2h0M715.7,192.6h0M340.2,301.3h0M454.6,222.1h0M414.9,250.9h0M481.2,264.0h0M169.7,146.1h0M709.6,213.1h0M724.6,102.5h0M688.0,189.9h0M278.4,298.1h0M286.9,240.5h0M216.6,197.5h0M622.7,257.9h0M194.3,164.3h0M650.5,256.5h0M234.0,190.4h0M733.3,163.7h0M180.1,101.4h0M309.9,215.3h0M473.4,264.9h0M353.0,258.3h0M160.8,129.7h0M716.7,110.1h0M311.6,247.0h0M482.0,259.0h0M303.8,294.7h0M344.7,216.7h0M170.4,74.8h0M579.2,284.0h0M587.2,203.3h0M489.5,258.1h0M341.9,221.0h0M631.8,245.7h0M356.2,247.4h0M279.9,285.4h0M605.3,257.9h0M651.1,301.0h0M164.0,83.9h0M164.5,38.9h0M539.8,223.9h0M725.1,162.6h0M630.2,204.2h0M378.3,243.0h0M277.1,258.4h0M423.6,262.9h0M507.3,253.3h0M656.6,208.2h0M384.3,234.0h0M683.6,231.4h0M273.8,232.9h0M600.0,223.4h0M369.9,238.8h0M534.1,216.4h0M541.1,224.0h0M324.7,272.6h0M606.4,203.8h0M560.3,225.6h0M309.3,222.6h0M372.1,242.5h0M264.1,293.5h0M173.1,101.1h0M188.0,186.2h0M187.6,158.8h0M393.3,254.1h0M422.7,200.0h0M367.0,209.7h0M408.1,271.0h0M608.2,270.8h0M203.6,249.5h0M339.1,186.4h0M176.9,101.6h0M702.3,231.0h0M721.9,94.8h0M460.5,218.6h0M479.0,226.7h0M230.3,199.4h0M420.6,236.7h0M413.9,253.9h0M180.7,163.0h0M682.9,184.0h0M218.4,233.9h0M187.2,173.0h0M349.4,212.9h0M753.7,81.8h0M678.8,187.4h0M447.8,263.3h0M749.2,176.1h0M416.6,204.2h0M190.7,116.6h0M223.3,221.2h0M574.1,246.8h0M725.8,123.4h0M278.0,306.7h0M315.2,207.3h0M167.2,159.3h0M655.5,231.8h0M165.3,64.0h0M687.0,221.1h0M369.6,251.9h0M286.4,259.5h0M758.5,71.6h0M715.8,153.7h0M177.0,117.3h0M189.2,171.3h0M338.0,299.6h0M726.9,144.8h0M449.0,211.5h0M158.7,45.1h0M342.6,257.2h0M755.0,41.4h0M682.6,208.3h0M399.6,323.2h0M605.2,170.2h0M328.5,284.7h0M521.1,292.7h0M561.3,250.6h0M190.3,196.4h0M526.6,289.3h0M156.4,94.9h0M415.9,235.9h0M189.6,193.0h0M527.8,263.6h0M704.8,241.5h0M604.3,257.2h0M233.8,289.4h0M689.1,242.8h0M678.8,239.2h0M704.7,191.6h0M635.8,202.0h0M189.1,131.4h0M528.7,222.0h0M429.6,256.0h0M530.7,237.7h0M593.9,229.3h0M306.5,244.9h0M575.3,220.0h0M316.3,279.4h0M433.5,269.9h0M263.4,283.7h0M176.4,87.2h0M569.1,244.6h0M662.5,219.8h0M742.8,121.2h0M635.5,247.1h0M423.1,201.7h0M679.0,226.0h0M226.4,311.5h0M367.4,241.2h0M415.0,260.4h0M686.2,208.8h0M339.7,338.3h0M205.5,198.1h0M282.8,282.9h0M196.4,82.3h0M719.8,199.0h0M561.6,271.2h0M189.6,145.3h0M313.7,243.1h0M702.4,260.6h0M184.0,87.3h0M685.9,236.3h0M163.7,122.5h0M327.7,260.3h0M444.3,266.6h0M605.6,169.3h0M168.3,117.8h0M371.3,188.0h0M714.1,136.9h0M666.5,246.8h0M502.4,334.8h0M745.6,83.0h0M738.5,110.2h0M515.6,214.0h0M545.3,219.0h0M166.6,56.2h0M720.9,135.8h0M675.7,216.6h0M436.7,261.8h0M545.0,216.7h0M414.8,214.4h0M366.9,210.7h0M615.9,219.9h0M246.1,170.6h0M540.3,228.7h0M338.8,283.4h0M212.9,175.3h0M433.0,281.8h0M212.6,148.1h0M179.1,124.0h0M675.5,252.5h0M282.5,333.8h0M465.0,258.5h0M246.8,243.2h0M471.4,273.6h0M407.7,221.5h0M443.2,260.8h0M744.1,24.0h0M330.1,266.2h0M517.7,214.6h0M622.1,329.1h0M744.2,183.6h0M335.2,211.6h0M171.8,109.1h0M493.8,244.0h0M669.5,303.2h0M410.0,264.2h0M705.1,250.8h0M243.3,215.7h0M661.0,271.3h0M241.3,242.5h0M581.3,237.7h0M612.7,261.1h0M753.4,70.3h0M442.4,282.1h0M728.4,195.8h0M167.9,102.9h0M697.5,181.2h0M295.9,255.6h0M734.8,79.9h0M326.5,255.5h0M481.7,225.8h0M242.4,236.4h0M662.1,179.5h0M705.4,239.4h0M671.5,202.0h0M732.0,170.7h0M555.6,203.1h0M193.1,68.4h0M746.8,55.8h0M573.2,202.0h0M659.9,285.7h0M175.0,129.3h0M320.9,274.1h0M221.0,219.0h0M660.0,253.8h0M199.2,193.2h0M196.6,183.9h0M708.2,152.3h0M546.7,216.1h0M394.5,233.2h0M188.3,133.3h0M688.9,322.8h0M731.0,83.2h0M588.8,208.7h0M386.2,277.0h0M218.5,323.5h0M204.6,188.2h0M516.5,208.0h0M252.6,220.9h0M705.0,155.9h0M192.2,133.4h0M604.6,207.9h0M163.7,82.3h0M728.2,137.3h0M202.0,105.8h0M756.4,48.2h0M554.1,194.5h0M220.1,198.5h0M254.7,247.4h0M189.6,130.6h0M461.4,238.1h0M688.7,191.5h0M522.5,248.0h0M577.4,229.5h0M326.0,350.4h0M298.5,285.9h0M584.7,255.6h0M392.8,279.0h0M664.3,197.9h0M358.9,250.6h0M153.5,67.7h0M161.8,104.8h0M469.9,252.8h0M226.7,200.8h0M448.7,260.4h0M520.3,257.4h0M511.3,249.4h0M488.8,264.7h0M545.5,216.3h0M509.3,255.4h0M239.3,282.7h0M537.1,223.4h0M510.8,231.4h0M161.1,93.0h0M495.5,224.6h0M204.2,145.8h0M381.0,224.8h0M320.9,224.4h0M413.2,245.8h0M281.2,275.6h0M179.4,40.0h0M638.5,176.5h0M186.3,105.3h0M716.4,108.4h0M274.3,273.6h0M646.2,234.2h0M236.6,239.0h0M185.8,289.5h0M588.4,246.8h0M190.9,151.3h0M468.9,257.5h0M588.4,229.0h0M595.7,243.9h0M288.4,247.9h0M671.9,262.8h0M370.8,278.5h0M365.8,225.8h0M354.3,270.4h0M512.4,241.4h0M690.6,182.3h0M461.3,225.6h0M396.4,269.0h0M201.3,229.1h0M489.2,239.1h0M689.3,281.2h0M413.6,227.9h0M604.1,220.1h0M363.8,203.7h0M494.2,199.8h0M149.8,101.7h0M716.1,196.2h0M630.4,212.3h0M570.4,221.9h0M339.0,276.4h0M398.2,243.2h0M709.2,226.8h0M171.3,87.4h0M427.1,238.2h0M381.6,236.5h0M682.2,286.2h0M703.8,176.7h0M245.4,321.3h0M163.8,134.3h0M204.2,210.7h0M757.8,124.6h0M475.9,196.0h0M409.2,212.0h0M706.0,308.3h0M737.5,120.9h0M712.1,152.7h0M474.1,174.6h0M295.8,284.3h0M582.6,258.1h0M287.5,241.8h0M278.8,227.1h0M183.8,187.3h0M287.8,270.3h0M164.0,109.1h0M727.2,176.9h0M183.1,66.2h0M204.3,162.2h0M274.8,242.2h0M374.3,257.8h0M518.1,147.6h0M263.4,309.3h0M214.7,194.2h0M483.8,227.5h0M206.8,199.9h0M176.8,136.4h0M611.9,226.2h0M578.8,277.8h0M295.1,212.2h0M542.7,261.5h0M405.9,276.4h0M394.5,274.6h0M602.5,245.3h0M192.8,144.8h0M424.2,224.0h0M406.2,205.0h0M524.6,231.7h0M228.6,144.4h0M492.8,240.1h0M608.2,227.7h0M271.3,259.8h0M161.2,47.9h0M246.8,295.3h0M728.5,204.8h0M200.5,142.0h0M175.4,89.5h0M390.7,281.1h0M461.4,293.4h0M298.7,226.5h0M382.1,192.0h0M485.4,203.0h0M602.1,255.4h0M661.6,265.0h0M500.3,201.6h0M288.3,277.7h0M361.8,216.8h0M674.5,257.8h0M356.1,214.2h0M414.4,300.2h0M716.7,193.4h0M717.0,222.4h0M648.8,233.6h0M199.3,136.3h0M730.3,161.3h0M327.8,281.6h0M221.5,225.6h0M719.5,172.4h0M384.4,233.0h0M155.8,96.9h0M669.7,222.6h0M226.2,188.2h0M528.6,270.9h0M588.8,291.5h0M212.0,187.3h0M273.8,270.9h0M714.0,150.8h0M361.2,161.7h0M227.6,217.6h0M305.7,236.0h0M160.8,169.9h0M719.7,156.1h0M619.2,266.6h0M187.3,143.6h0M484.6,268.1h0M196.2,148.5h0M730.4,114.4h0M494.5,215.3h0M522.2,274.5h0M389.3,286.5h0M350.8,210.1h0M743.9,191.2h0M505.9,276.5h0M547.0,280.1h0M731.6,87.7h0M704.5,195.1h0M296.8,261.7h0M614.6,169.0h0M244.0,268.7h0M455.9,321.6h0M609.3,228.0h0M667.7,205.9h0M341.6,264.2h0M265.3,238.0h0M721.0,124.0h0M558.7,232.6h0M371.1,225.9h0M151.7,103.7h0M406.4,227.8h0M505.2,199.1h0M346.0,210.6h0M449.5,269.8h0M572.7,247.5h0M338.3,266.1h0M621.7,255.7h0M336.2,291.0h0M663.5,186.5h0M609.7,260.9h0M172.7,120.5h0M656.0,249.4h0M656.8,274.9h0M211.3,180.8h0M420.2,276.0h0M495.9,249.0h0M619.7,242.6h0M222.8,275.3h0M273.1,255.5h0M164.2,115.1h0M706.7,278.1h0M513.1,246.7h0M224.9,223.6h0M554.3,212.0h0M481.9,240.6h0M222.8,344.0h0M265.2,307.8h0M658.5,244.1h0M577.3,217.8h0M549.5,282.6h0M660.5,276.7h0M755.3,113.0h0M480.2,205.3h0M381.6,224.0h0M666.4,234.1h0M495.7,184.6h0M650.4,227.5h0M433.3,250.2h0M424.8,271.6h0M407.3,252.7h0M433.9,249.7h0M710.7,145.8h0M282.4,282.5h0M227.3,285.1h0M641.9,280.0h0M229.3,201.5h0M725.1,244.1h0M255.8,335.5h0M344.7,270.1h0M626.5,300.3h0M728.7,122.2h0M627.3,273.8h0M290.8,255.9h0M419.7,264.0h0M753.9,137.4h0M435.7,286.3h0M159.8,111.6h0M541.9,244.9h0M638.8,223.4h0M711.2,227.1h0M520.2,226.6h0M516.6,278.1h0M560.8,238.0h0M593.7,240.3h0M741.5,95.9h0M159.7,67.1h0M530.3,214.9h0M536.9,189.0h0M580.1,334.9h0M336.3,301.9h0M154.3,91.1h0M274.2,311.0h0M420.3,212.2h0M654.1,220.7h0M475.2,224.3h0M623.6,192.0h0M426.5,298.2h0M187.2,168.8h0M638.5,230.9h0M330.1,266.3h0M428.6,305.6h0M571.0,230.0h0M511.1,278.0h0M179.8,91.9h0M218.9,221.7h0M368.5,265.5h0M586.2,247.4h0M174.0,182.7h0M656.8,273.4h0M725.5,113.1h0M745.9,132.1h0M706.3,164.2h0M454.7,260.5h0M383.1,285.1h0M204.2,218.9h0M390.9,234.9h0M328.0,268.7h0M684.0,241.7h0M476.1,227.3h0M223.9,234.9h0M692.9,232.1h0M415.8,223.1h0M303.1,281.5h0M474.4,237.4h0M486.4,226.3h0M726.8,117.2h0M331.2,206.6h0M612.6,255.6h0M318.6,287.6h0M709.8,165.5h0M383.5,309.8h0M167.2,120.6h0M445.3,240.2h0M564.6,238.7h0M191.3,152.1h0M444.7,257.1h0M650.5,201.6h0M596.9,191.2h0M436.5,240.8h0M321.8,235.8h0M370.1,269.6h0M213.4,208.2h0M686.8,196.4h0M713.4,193.1h0M307.6,207.2h0M204.1,190.7h0M182.4,155.6h0M426.9,252.4h0M171.5,100.4h0M249.6,240.2h0M721.1,167.8h0M652.7,203.3h0M346.8,273.8h0M750.3,49.5h0M508.1,166.2h0M755.7,44.0h0M734.0,115.4h0M437.2,291.5h0M741.8,122.3h0M715.6,164.4h0M481.8,254.9h0M710.0,180.5h0M611.3,223.4h0M599.9,305.8h0M337.5,290.9h0M347.7,227.6h0M376.4,290.8h0M663.2,203.3h0M459.9,264.0h0M247.7,275.5h0M678.5,265.9h0M393.2,249.7h0M364.8,249.2h0M490.1,233.9h0M185.6,198.2h0M457.9,216.5h0M517.9,279.0h0M259.1,247.6h0M558.8,238.4h0M646.9,234.8h0M176.7,94.3h0M200.7,163.0h0M241.6,249.5h0M737.5,73.1h0M402.2,248.5h0M697.2,232.3h0M178.2,172.0h0M501.2,188.2h0M752.2,91.2h0M268.1,296.3h0M473.9,242.2h0M296.8,207.9h0M231.1,262.3h0M518.2,201.1h0M288.2,340.5h0M459.2,271.6h0M471.1,248.6h0M746.7,146.3h0M212.6,159.9h0M612.7,229.5h0M527.6,261.9h0M239.6,256.5h0M689.3,194.4h0M220.0,221.6h0M752.2,149.2h0M483.1,258.5h0M378.0,240.8h0M519.3,227.2h0M374.3,223.6h0M629.5,245.7h0M612.9,226.6h0M183.4,151.0h0M494.6,257.3h0M544.3,251.4h0M386.7,215.4h0M734.3,119.5h0M195.1,105.6h0M715.8,124.6h0M743.2,39.5h0M559.3,227.2h0M744.1,93.7h0M199.8,106.4h0M488.0,271.9h0M414.6,263.0h0M178.6,116.3h0M426.3,243.7h0M446.8,266.1h0M203.1,211.5h0M297.5,202.2h0M717.5,127.2h0M681.7,308.7h0M642.9,268.9h0M151.0,110.4h0M623.7,256.4h0M151.3,119.6h0M345.0,187.6h0M326.0,234.5h0M679.1,176.3h0M155.9,102.7h0M534.2,225.4h0M458.8,255.0h0M413.6,290.7h0M732.7,139.9h0M477.7,244.2h0M512.8,226.0h0M471.1,207.8h0M425.6,241.2h0M203.8,172.4h0M592.2,270.7h0M498.8,192.6h0M680.6,182.8h0M522.9,253.6h0M320.1,267.1h0M517.6,230.3h0M584.9,210.3h0M597.6,245.7h0M721.3,116.2h0M665.6,217.8h0M158.7,105.5h0M567.6,227.3h0M741.4,171.7h0M757.2,75.9h0M407.3,282.9h0M705.0,193.4h0M223.6,212.0h0M549.6,223.8h0M204.9,129.7h0M180.8,31.4h0M266.5,252.7h0M376.3,257.4h0M153.7,72.0h0M692.6,261.2h0M680.4,209.5h0M493.6,241.6h0M321.5,256.3h0M488.9,249.6h0M599.7,248.6h0M440.1,288.0h0M358.2,296.4h0M238.8,234.8h0M373.4,224.5h0M301.4,214.4h0M485.4,189.3h0M621.0,279.0h0M617.5,194.4h0M504.0,328.1h0M701.8,226.9h0M409.8,300.0h0M683.3,257.9h0M225.2,218.2h0M156.7,162.3h0M187.8,168.0h0M196.8,181.7h0M744.1,107.5h0M725.0,205.2h0M169.9,56.2h0M413.2,308.7h0M429.3,261.2h0M491.7,253.6h0M477.7,251.1h0M290.7,251.6h0M346.4,215.7h0M480.8,228.3h0M707.8,184.2h0M208.3,186.3h0M686.4,244.0h0M400.0,213.4h0M266.9,281.4h0M618.2,195.6h0M747.1,165.1h0M187.0,157.1h0M171.4,91.9h0M192.9,120.0h0M362.3,250.4h0M211.1,152.2h0M697.6,263.4h0M219.8,199.3h0M495.8,246.8h0M620.5,265.4h0M170.3,70.1h0M185.9,84.8h0M382.9,241.8h0M525.0,226.5h0M692.8,230.3h0M181.4,111.5h0M490.3,178.7h0M503.1,174.4h0M758.0,120.0h0M452.5,299.6h0M408.9,294.1h0M522.6,212.1h0M464.0,258.3h0M551.2,259.2h0M564.9,277.3h0M619.3,211.7h0M221.1,237.6h0M371.9,347.5h0M751.0,100.6h0M556.0,276.5h0M519.8,208.6h0M228.0,265.2h0M159.5,143.9h0M723.6,168.3h0M219.3,174.0h0M731.5,98.9h0M703.1,197.1h0M723.9,166.1h0M411.8,283.2h0M342.9,283.8h0M324.0,238.9h0M681.9,219.0h0M312.3,293.9h0M515.4,217.1h0M481.6,272.3h0M268.8,240.9h0M469.4,329.4h0M709.1,200.3h0M539.1,223.1h0M331.8,263.6h0M673.8,244.9h0M177.0,123.1h0M579.9,245.3h0M558.1,245.2h0M714.8,127.6h0M746.1,69.1h0M709.6,210.3h0M614.9,300.3h0M220.2,220.8h0M213.1,167.7h0M360.7,217.7h0M367.6,258.8h0M669.8,251.5h0M447.7,228.5h0M251.3,335.5h0M698.2,182.5h0M174.1,91.6h0M152.5,133.5h0M720.2,218.0h0M171.9,137.6h0M481.9,257.2h0M186.1,137.3h0M749.0,104.2h0M362.1,202.4h0M302.7,238.1h0M383.1,201.5h0M751.2,75.4h0M646.6,180.5h0M237.9,259.9h0M290.8,281.4h0M754.1,82.0h0M279.1,237.5h0M221.4,265.4h0M223.1,202.2h0M282.2,272.8h0M326.1,264.4h0M230.5,232.2h0M708.4,255.4h0M358.3,256.1h0M359.5,200.2h0M502.1,198.4h0M659.4,276.2h0M260.1,269.1h0M693.3,214.5h0M534.0,226.6h0M698.7,208.1h0M194.4,142.7h0M398.3,253.0h0M634.0,278.7h0M736.1,100.9h0M212.1,194.2h0M441.1,307.9h0M214.3,186.0h0M480.6,269.0h0M391.9,240.2h0M588.3,228.5h0M400.9,262.2h0M615.8,231.6h0M498.9,229.9h0M437.4,226.5h0M387.7,230.1h0M315.5,194.3h0M165.1,131.8h0M729.5,93.2h0M692.3,246.1h0M194.6,163.5h0M745.3,127.5h0M332.3,264.7h0M287.8,246.4h0M408.6,256.3h0M328.9,238.9h0M235.1,305.0h0M645.2,266.9h0M466.9,292.0h0M631.3,222.0h0M483.1,254.1h0M525.0,228.3h0M635.0,267.0h0M316.9,218.5h0M746.4,102.3h0M161.4,144.7h0M496.7,222.1h0M202.9,218.5h0M467.7,231.7h0M153.9,56.2h0M280.5,214.1h0M309.9,177.5h0M258.6,322.9h0M736.4,98.8h0M316.5,234.4h0M228.7,193.2h0M208.9,172.2h0M467.9,222.0h0M156.9,119.4h0M371.7,309.1h0M606.4,277.3h0M631.8,261.7h0M699.8,237.2h0M223.6,119.9h0M516.1,300.6h0M703.2,177.7h0M493.0,194.9h0M320.2,279.8h0M599.6,223.9h0M332.7,287.7h0M193.3,168.9h0M688.7,259.3h0M509.4,231.6h0M645.9,240.3h0M695.5,243.5h0M343.8,239.3h0M193.2,210.6h0M169.6,136.5h0M730.4,114.5h0M654.8,223.6h0M442.6,280.8h0M523.7,268.7h0M743.7,99.5h0M180.5,136.6h0M647.7,214.3h0M359.4,253.0h0M262.9,236.3h0M197.8,168.1h0M673.5,255.1h0M403.5,247.8h0M574.7,234.2h0M492.4,209.5h0M164.2,137.7h0M623.2,233.9h0M688.0,183.9h0M637.7,209.9h0M347.3,269.0h0M334.4,269.0h0M156.1,90.6h0M204.2,263.2h0M226.4,228.1h0M324.2,283.4h0M158.2,73.7h0M688.4,241.3h0M447.0,235.1h0M617.6,222.7h0M741.7,99.8h0M241.1,241.8h0M162.0,101.7h0M483.1,208.9h0M689.3,212.8h0M310.8,287.1h0M683.4,209.1h0M517.9,211.9h0M339.3,271.7h0M642.2,272.9h0M174.6,108.4h0M598.4,195.7h0M699.3,220.2h0M374.9,231.8h0M545.1,254.9h0M492.8,251.1h0M170.6,110.0h0M714.8,199.7h0M391.3,233.8h0M188.6,139.6h0M202.7,176.3h0M185.3,132.3h0M218.0,190.2h0M545.0,226.0h0M734.0,174.4h0M270.3,242.7h0M710.9,200.4h0M174.2,261.6h0M358.4,201.8h0M181.5,43.7h0M194.8,220.0h0M191.1,135.0h0M664.5,223.6h0M713.9,227.7h0M483.2,231.4h0M685.0,246.3h0M581.2,216.9h0M571.4,228.1h0M320.0,261.0h0M275.2,322.3h0M481.1,206.4h0M151.2,109.7h0M385.1,230.4h0M718.9,155.2h0M733.8,100.0h0M369.9,237.0h0M259.0,322.1h0M515.6,260.5h0M591.5,255.0h0M182.3,149.5h0M724.3,170.0h0M379.1,181.9h0M492.2,210.5h0M426.2,264.8h0M162.2,104.5h0M577.1,277.3h0M499.5,204.1h0M323.4,237.3h0M249.1,276.2h0M394.6,294.7h0M537.2,276.7h0M604.6,202.9h0M418.2,210.7h0M261.0,316.9h0M324.3,233.8h0M479.6,273.7h0M754.3,169.6h0M173.3,57.6h0M436.1,231.0h0M599.5,300.5h0M497.2,250.2h0M657.8,283.9h0M637.7,228.6h0M362.0,209.7h0M438.0,255.1h0M691.8,207.3h0M172.1,132.5h0M665.0,265.5h0M653.3,259.9h0M454.6,276.2h0M250.5,195.1h0M639.1,256.0h0M209.0,201.1h0M243.0,178.2h0M470.5,321.3h0M233.4,255.8h0M592.5,229.3h0M743.8,90.0h0M256.3,313.7h0M624.8,311.7h0M739.3,74.0h0M700.9,235.2h0M651.5,249.0h0M730.6,124.2h0M436.6,225.0h0M502.3,261.2h0M678.9,225.6h0M172.0,100.0h0M661.0,228.4h0M155.6,69.3h0M344.6,243.0h0M742.9,106.0h0M584.7,261.6h0M215.5,157.4h0M212.4,171.4h0M173.1,60.8h0M366.9,244.7h0M580.4,255.8h0M257.1,279.5h0M229.4,228.0h0M473.4,196.0h0M317.9,279.6h0M186.0,92.7h0M703.0,227.0h0M632.2,274.8h0M514.9,243.1h0M665.3,218.6h0M379.7,257.1h0M345.5,210.8h0M254.2,250.2h0M519.3,236.8h0M392.4,284.5h0M666.8,228.7h0M738.8,145.1h0M519.0,242.0h0M265.5,281.8h0M377.1,264.2h0M166.5,38.0h0M722.1,109.7h0M425.1,224.7h0M395.2,342.8h0M627.0,243.9h0M533.3,231.0h0M181.6,84.3h0M167.3,156.8h0M214.1,112.8h0M525.2,185.3h0M490.9,273.2h0M419.1,199.5h0M155.1,47.0h0M225.3,180.0h0M326.9,240.4h0M185.1,122.2h0M496.5,246.1h0M164.4,91.2h0M176.3,85.3h0M707.1,176.5h0M192.5,84.2h0M497.4,149.3h0M252.2,269.3h0M215.4,203.9h0M169.6,147.3h0M189.6,115.2h0M427.7,321.2h0M197.0,126.0h0M421.9,247.9h0M604.3,182.9h0M550.3,213.3h0M229.5,221.3h0M614.6,351.9h0M528.1,252.4h0M698.9,251.2h0M588.9,216.7h0M546.9,257.4h0M208.9,178.5h0M162.8,71.0h0M550.1,209.0h0M303.5,281.2h0M386.5,267.3h0M301.9,267.4h0M562.5,315.0h0M649.7,247.0h0M238.7,238.6h0M211.9,192.2h0M622.1,284.3h0M409.7,275.1h0M559.1,222.9h0M492.3,188.4h0M441.6,237.2h0M167.5,55.1h0M201.9,131.5h0M254.6,285.4h0M270.4,269.3h0M628.5,335.5h0M355.2,208.9h0M196.5,195.1h0M642.2,226.6h0M631.4,269.4h0M409.4,285.4h0M454.8,275.5h0M585.1,281.7h0M699.5,219.8h0M613.2,218.4h0M262.9,282.1h0M724.6,184.4h0M378.5,296.2h0M371.3,230.9h0M330.2,292.7h0M512.3,243.5h0M479.8,231.7h0M460.1,250.7h0M168.3,106.4h0M558.8,173.4h0M375.8,234.9h0M593.7,197.0h0M621.3,210.0h0M743.5,79.4h0M511.1,210.9h0M275.1,304.0h0M538.8,237.3h0M310.5,242.2h0M432.5,231.7h0M218.4,99.9h0M542.5,190.5h0M374.0,276.7h0M395.9,180.6h0M736.6,77.8h0M706.4,177.2h0M190.8,143.3h0M706.7,189.0h0M309.3,238.8h0M201.9,135.5h0M466.8,262.8h0M202.2,160.7h0M231.9,232.3h0M370.6,267.1h0M658.7,225.1h0M195.8,236.5h0M627.0,284.1h0M377.7,293.3h0M699.4,325.4h0M192.0,168.3h0M324.2,259.6h0M669.9,251.3h0M194.7,157.5h0M612.3,252.0h0M277.5,273.0h0M684.1,270.1h0M400.9,261.7h0M255.0,248.5h0M668.5,261.1h0M630.9,276.9h0M210.8,178.7h0M324.4,257.0h0M279.4,257.6h0M282.0,266.6h0M242.1,286.1h0M551.9,280.6h0M204.8,181.9h0M723.6,96.1h0M164.5,94.7h0M620.2,235.3h0M609.5,279.4h0M286.0,254.4h0M317.4,292.3h0M746.2,144.5h0M489.5,227.7h0M530.5,217.9h0M628.6,226.3h0M521.1,234.6h0M497.0,222.4h0M562.8,222.5h0M720.3,182.6h0M453.1,264.3h0M233.2,226.2h0M430.3,210.3h0M556.4,202.4h0M203.5,326.4h0M623.9,234.5h0M644.7,199.9h0M611.7,343.5h0M450.3,329.6h0M733.3,107.7h0M539.3,297.6h0M500.1,229.9h0M164.5,163.6h0M410.8,233.9h0M190.2,163.1h0M549.1,245.7h0M263.3,266.2h0M668.5,243.6h0M299.1,233.3h0M333.5,306.0h0M522.7,252.4h0M507.6,214.4h0M322.4,243.7h0M178.2,222.7h0M415.2,244.6h0M168.1,78.3h0M614.8,217.5h0M203.9,181.2h0M168.7,86.9h0M390.8,295.2h0M581.0,236.0h0M489.5,257.5h0M181.4,102.1h0M755.9,68.9h0M215.6,204.6h0M615.0,138.8h0M379.9,261.3h0M684.3,219.6h0M516.8,215.7h0M434.9,271.8h0M182.6,127.5h0M295.2,249.0h0M503.9,233.1h0M738.9,146.9h0M456.2,166.8h0M723.0,71.9h0M550.4,232.0h0M547.2,268.9h0M521.6,225.5h0M596.2,172.8h0M251.5,266.6h0M216.3,217.5h0M407.4,278.0h0M298.1,242.0h0M638.8,267.7h0M168.8,78.5h0M165.2,81.7h0M578.8,252.3h0M507.3,233.9h0M349.9,231.9h0M706.3,225.2h0M381.8,292.9h0M474.0,226.8h0M399.8,254.5h0M689.3,228.5h0M699.2,251.3h0M360.5,355.4h0M207.1,212.8h0M445.8,252.9h0M679.0,215.9h0M685.3,214.7h0M360.8,238.8h0M533.4,218.6h0M165.4,43.4h0M728.9,87.8h0M247.2,276.4h0M383.4,268.0h0M213.9,205.5h0M733.4,120.1h0M377.6,268.4h0M307.2,233.6h0M728.0,252.1h0M592.9,195.4h0M606.4,202.7h0M390.4,279.8h0M175.0,93.6h0M756.0,130.3h0M307.6,287.5h0M279.7,258.8h0M157.6,62.0h0M518.4,221.1h0M171.0,122.4h0M167.5,77.0h0M254.3,294.2h0M720.8,138.2h0M196.1,161.4h0M204.3,198.4h0M550.5,235.7h0M167.5,146.5h0M277.2,342.4h0M395.7,299.4h0M375.0,232.3h0M606.2,215.1h0M581.3,194.3h0M217.2,216.0h0M272.9,265.9h0M314.7,232.0h0M532.2,272.2h0M749.7,92.8h0M159.2,174.0h0M209.2,256.3h0M359.1,186.1h0M468.7,278.8h0M753.9,50.8h0M184.3,194.5h0M173.0,58.5h0M531.2,213.0h0M619.1,235.7h0M502.8,312.1h0M425.4,220.9h0M350.6,239.8h0M226.6,242.2h0M737.0,39.6h0M425.3,285.5h0M186.0,166.2h0M183.4,82.0h0M222.4,207.6h0M218.8,182.9h0M488.9,307.0h0M729.6,249.6h0M544.9,136.1h0M318.7,250.3h0M420.9,199.0h0M650.5,320.3h0M296.6,337.7h0M184.3,171.2h0M750.7,71.7h0M734.2,74.7h0M618.6,236.8h0M162.5,128.4h0M518.5,228.3h0M209.6,177.8h0M279.7,291.3h0M260.8,271.8h0M399.5,275.3h0M331.9,269.5h0M458.2,251.7h0M370.9,242.5h0M292.1,238.8h0M506.6,257.0h0M176.2,146.1h0M679.4,205.7h0M732.5,99.5h0M596.5,299.5h0M154.5,129.4h0M734.3,158.6h0M501.2,330.9h0M728.4,172.1h0M363.0,192.0h0M695.5,173.9h0M281.6,286.1h0M512.1,260.4h0M721.2,190.4h0M235.0,209.9h0M425.2,265.1h0M241.2,259.0h0M304.7,293.6h0M152.0,79.7h0M319.7,320.9h0M683.8,290.8h0M560.5,240.8h0M651.6,247.1h0M688.3,200.9h0M218.5,265.0h0M201.9,200.2h0M376.5,259.1h0M536.4,254.1h0M713.7,242.4h0M187.6,96.8h0M591.8,233.3h0M661.1,214.1h0M412.6,266.8h0M591.0,223.3h0M546.7,234.8h0M314.5,251.6h0M332.4,248.5h0M504.5,224.6h0M280.1,273.2h0M421.8,233.8h0M296.3,204.7h0M183.9,112.4h0M617.8,272.2h0M436.5,240.3h0M479.9,253.8h0M329.4,247.7h0M728.5,165.6h0M157.1,70.2h0M195.3,121.5h0M748.6,47.3h0M698.6,178.3h0M292.8,193.6h0M742.0,47.7h0M348.1,252.5h0M160.3,66.7h0M662.2,165.8h0M584.2,243.9h0M509.2,243.2h0M346.2,254.6h0M448.6,237.1h0M696.6,220.3h0M175.6,77.8h0M527.1,280.2h0" fill="none" stroke="#a8a495" stroke-width="10.6" stroke-linecap="round" clip-path="url(#clipA)"/>
<rect x="212.35" y="31.2" width="9.7" height="18.0" fill="#000"/>
<rect x="212.35" y="69.2" width="9.7" height="18.2" fill="#000"/>
<rect x="212.35" y="107.1" width="9.7" height="18.4" fill="#000"/>
<rect x="212.35" y="145.0" width="9.7" height="18.3" fill="#000"/>
<rect x="212.35" y="183.1" width="9.7" height="18.3" fill="#000"/>
<rect x="212.35" y="221.0" width="9.7" height="18.2" fill="#000"/>
<rect x="212.35" y="258.8" width="9.7" height="18.2" fill="#000"/>
<rect x="212.35" y="296.4" width="9.7" height="18.2" fill="#000"/>
<rect x="212.35" y="318.7" width="9.7" height="29.4" fill="#000"/>
<rect x="685.45" y="31.2" width="9.7" height="18.0" fill="#000"/>
<rect x="685.45" y="69.2" width="9.7" height="18.2" fill="#000"/>
<rect x="685.45" y="107.1" width="9.7" height="18.4" fill="#000"/>
<rect x="685.45" y="145.0" width="9.7" height="18.3" fill="#000"/>
<rect x="685.45" y="183.1" width="9.7" height="18.3" fill="#000"/>
<rect x="685.45" y="221.0" width="9.7" height="18.2" fill="#000"/>
<rect x="685.45" y="258.8" width="9.7" height="18.2" fill="#000"/>
<rect x="685.45" y="296.4" width="9.7" height="18.2" fill="#000"/>
<rect x="685.45" y="318.7" width="9.7" height="29.4" fill="#000"/>
<path d="M458.6,297.1h0M624.0,232.4h0M722.6,153.9h0M669.9,224.3h0M278.6,289.1h0M562.7,275.2h0M721.7,134.4h0M393.1,223.9h0M744.9,92.9h0M748.9,82.9h0M162.1,139.9h0M280.4,234.8h0M448.7,233.5h0M209.9,183.4h0M504.2,316.5h0M705.0,228.3h0M310.2,242.7h0M559.2,276.4h0M467.6,281.8h0M194.6,203.0h0M417.5,278.1h0M607.9,227.9h0M738.8,109.6h0M406.5,272.7h0M585.9,248.2h0M672.0,237.9h0M579.8,255.8h0M544.5,193.3h0M467.1,214.7h0M258.1,262.7h0M426.0,274.7h0M399.0,216.9h0M721.3,149.0h0M627.5,249.6h0M436.8,292.9h0M189.6,140.0h0M246.2,269.4h0M668.6,233.9h0M605.7,211.6h0M464.9,314.0h0M745.4,107.8h0M184.9,94.8h0M197.9,150.0h0M696.6,213.1h0M168.8,118.2h0M220.9,249.0h0M261.9,240.5h0M683.4,213.1h0M469.1,173.7h0M259.9,251.9h0M346.6,268.2h0M397.2,241.3h0M723.9,143.7h0M510.3,257.2h0M665.5,215.1h0M219.5,174.6h0M349.0,297.9h0M297.6,242.9h0M583.3,244.3h0M682.9,241.5h0M178.3,156.3h0M496.5,237.1h0M607.9,241.3h0M356.6,226.3h0M752.7,61.8h0M596.1,202.2h0M528.7,213.8h0" fill="none" stroke="#a8a495" stroke-width="10.6" stroke-linecap="round" clip-path="url(#clipA)"/>
<g clip-path="url(#clipA)" fill="none" stroke="#d3494e" stroke-width="8.9" stroke-linecap="butt" stroke-linejoin="miter">
<path d="M155.1,44.0 L166.5,58.0"/>
<path d="M176.7,73.3 L184.3,89.8"/>
<path d="M191.3,108.8 L198.5,124.5"/>
<path d="M209.7,140.3 L217.3,158.1"/>
<path d="M221.1,177.1 L228.7,193.7"/>
<path d="M238.5,205.4 L253.2,220.0"/>
<path d="M263.2,217.8 L279.2,231.7"/>
<path d="M282.5,206.0 L301.1,218.5"/>
<path d="M318.3,209.8 L336.8,219.4"/>
<path d="M350.8,205.8 L363.7,227.7"/>
<path d="M366.7,197.9 L380.6,207.8"/>
<path d="M398.5,211.8 L407.5,215.5 L416.4,213.0"/>
<path d="M426.3,223.7 L434.3,205.8"/>
<path d="M438.3,201.9 L448.2,217.8"/>
<path d="M460.9,208.8 L467.9,193.9"/>
<path d="M484.8,211.8 L498.7,200.9"/>
<path d="M509.6,196.9 L525.5,205.8"/>
<path d="M541.5,201.9 L553.4,188.9"/>
<path d="M566.3,196.9 L584.2,201.9"/>
<path d="M600.5,210.5 L608.0,213.5 L615.0,205.5"/>
<path d="M624.5,217.8 L635.8,203.3"/>
<path d="M653.3,196.4 L662.0,197.5 L670.2,192.0"/>
<path d="M687.1,182.8 L697.2,175.4"/>
<path d="M699.0,149.2 L714.3,140.3"/>
<path d="M718.1,120.2 L724.4,103.1"/>
<path d="M730.8,84.7 L738.4,67.5"/>
<path d="M155.1,112.6 L163.7,127.5"/>
<path d="M172.9,140.3 L183.0,156.8"/>
<path d="M189.4,174.6 L197.0,191.1"/>
<path d="M197.4,211.6 L206.0,214.5 L215.0,220.8"/>
<path d="M217.6,241.6 L225.5,257.5"/>
<path d="M226.5,277.4 L237.5,295.3"/>
<path d="M246.4,307.2 L257.4,325.1"/>
<path d="M262.3,319.2 L280.2,313.2"/>
<path d="M287.2,295.3 L293.1,279.4"/>
<path d="M294.6,269.5 L303.1,287.4"/>
<path d="M304.1,301.3 L319.0,291.3"/>
<path d="M324.0,317.2 L338.9,323.1"/>
<path d="M339.9,291.3 L354.8,279.4"/>
<path d="M361.7,275.4 L370.7,291.3"/>
<path d="M378.6,305.2 L392.5,319.2"/>
<path d="M396.5,291.3 L408.4,307.2"/>
<path d="M410.4,297.3 L418.4,281.4"/>
<path d="M427.3,267.5 L436.3,285.4"/>
<path d="M444.2,291.3 L456.2,309.2"/>
<path d="M466.9,297.3 L477.8,283.4"/>
<path d="M487.8,265.5 L496.7,251.6"/>
<path d="M505.7,274.4 L513.6,291.3"/>
<path d="M527.5,273.4 L541.5,282.4"/>
<path d="M559.3,271.5 L569.3,287.4"/>
<path d="M581.2,285.4 L591.2,268.5"/>
<path d="M607.1,279.4 L623.0,269.5"/>
<path d="M635.9,282.4 L653.8,279.4"/>
<path d="M666.7,279.4 L678.6,266.5"/>
<path d="M694.5,261.5 L706.5,246.6"/>
<path d="M708.4,225.7 L716.4,209.8"/>
<path d="M711.7,208.9 L714.3,225.4"/>
<path d="M718.1,188.6 L727.0,173.3"/>
<path d="M729.5,153.0 L739.7,136.5"/>
</g>
<path d="M155.0,78.3 L164.0,91.0 L175.4,97.4 L180.5,117.0 L188.1,133.0 L191.9,145.4 L198.3,167.0 L204.6,174.6 L211.0,179.7 L216.0,193.7 L222.4,208.9 L229.5,235.7 L235.5,247.6 L243.4,255.5 L251.4,263.5 L258.4,280.4 L266.3,271.5 L274.3,272.4 L285.2,259.5 L296.1,240.6 L305.1,261.5 L314.0,253.6 L323.0,263.5 L333.9,269.5 L341.8,253.6 L350.8,245.6 L360.7,246.6 L370.7,249.6 L380.6,254.6 L390.6,261.5 L400.5,254.6 L408.4,263.5 L419.4,237.7 L428.3,245.6 L438.3,246.6 L448.2,255.5 L456.0,264.5 L463.9,249.6 L473.9,241.6 L483.8,239.6 L494.7,227.7 L501.7,237.7 L511.6,242.6 L522.6,245.6 L532.5,234.7 L540.5,239.6 L551.4,231.7 L561.3,239.6 L570.3,244.6 L579.2,245.6 L589.2,236.7 L597.1,240.6 L607.1,243.6 L617.0,234.7 L626.9,249.6 L635.9,242.6 L646.8,239.6 L656.8,238.6 L665.7,239.6 L674.7,228.7 L684.6,224.7 L692.5,223.7 L698.5,205.8 L704.5,191.9 L712.4,180.0 L716.8,164.4 L721.9,145.4 L726.5,130.4 L732.1,113.9 L738.4,101.2 L741.0,96.1" fill="none" stroke="#d3494e" stroke-width="9.9" stroke-linejoin="round" stroke-linecap="round" clip-path="url(#clipA)"/>
<rect x="154.00" y="31.40" width="599.20" height="316.70" fill="none" stroke="#262626" stroke-width="3.7"/>
<line x1="134.85" y1="31.40" x2="152.65" y2="31.40" stroke="#262626" stroke-width="2.8" stroke-linecap="butt" />
<line x1="754.55" y1="31.40" x2="772.35" y2="31.40" stroke="#262626" stroke-width="2.8" stroke-linecap="butt" />
<line x1="134.85" y1="76.64" x2="152.65" y2="76.64" stroke="#262626" stroke-width="2.8" stroke-linecap="butt" />
<line x1="754.55" y1="76.64" x2="772.35" y2="76.64" stroke="#262626" stroke-width="2.8" stroke-linecap="butt" />
<line x1="134.85" y1="121.89" x2="152.65" y2="121.89" stroke="#262626" stroke-width="2.8" stroke-linecap="butt" />
<line x1="754.55" y1="121.89" x2="772.35" y2="121.89" stroke="#262626" stroke-width="2.8" stroke-linecap="butt" />
<line x1="134.85" y1="167.13" x2="152.65" y2="167.13" stroke="#262626" stroke-width="2.8" stroke-linecap="butt" />
<line x1="754.55" y1="167.13" x2="772.35" y2="167.13" stroke="#262626" stroke-width="2.8" stroke-linecap="butt" />
<line x1="134.85" y1="212.38" x2="152.65" y2="212.38" stroke="#262626" stroke-width="2.8" stroke-linecap="butt" />
<line x1="754.55" y1="212.38" x2="772.35" y2="212.38" stroke="#262626" stroke-width="2.8" stroke-linecap="butt" />
<line x1="134.85" y1="257.62" x2="152.65" y2="257.62" stroke="#262626" stroke-width="2.8" stroke-linecap="butt" />
<line x1="754.55" y1="257.62" x2="772.35" y2="257.62" stroke="#262626" stroke-width="2.8" stroke-linecap="butt" />
<line x1="134.85" y1="302.87" x2="152.65" y2="302.87" stroke="#262626" stroke-width="2.8" stroke-linecap="butt" />
<line x1="754.55" y1="302.87" x2="772.35" y2="302.87" stroke="#262626" stroke-width="2.8" stroke-linecap="butt" />
<line x1="134.85" y1="348.11" x2="152.65" y2="348.11" stroke="#262626" stroke-width="2.8" stroke-linecap="butt" />
<line x1="754.55" y1="348.11" x2="772.35" y2="348.11" stroke="#262626" stroke-width="2.8" stroke-linecap="butt" />
<text x="113.3" y="40.4" text-anchor="end" font-size="32.0" fill="#1c1c1c" font-weight="normal" >0.5</text>
<text x="113.3" y="85.6" text-anchor="end" font-size="32.0" fill="#1c1c1c" font-weight="normal" >0.0</text>
<text x="113.3" y="130.9" text-anchor="end" font-size="32.0" fill="#1c1c1c" font-weight="normal" >−0.5</text>
<text x="113.3" y="176.1" text-anchor="end" font-size="32.0" fill="#1c1c1c" font-weight="normal" >−1.0</text>
<text x="113.3" y="221.4" text-anchor="end" font-size="32.0" fill="#1c1c1c" font-weight="normal" >−1.5</text>
<text x="113.3" y="266.6" text-anchor="end" font-size="32.0" fill="#1c1c1c" font-weight="normal" >−2.0</text>
<text x="113.3" y="311.9" text-anchor="end" font-size="32.0" fill="#1c1c1c" font-weight="normal" >−2.5</text>
<text x="113.3" y="357.1" text-anchor="end" font-size="32.0" fill="#1c1c1c" font-weight="normal" >−3.0</text>
<text x="154.0" y="21.9" text-anchor="start" font-size="32.0" fill="#1c1c1c" font-weight="normal" >1e−3</text>
<text x="4.7" y="64.2" text-anchor="start" font-size="44" fill="#e5161a" font-weight="bold" class="pl">a</text>
<text transform="translate(23.3,221.5) rotate(-90)" font-size="31.6" fill="#1c1c1c">ΔI/I<tspan dx="0.5" dy="3.5" font-size="22.1">p</tspan></text>
<clipPath id="clipB"><rect x="154.00" y="398.10" width="599.20" height="315.90"/></clipPath>
<defs>
<filter id="blurW" filterUnits="userSpaceOnUse" x="100" y="350" width="720" height="420"><feGaussianBlur stdDeviation="3.3"/></filter>
<filter id="blurW2" filterUnits="userSpaceOnUse" x="100" y="350" width="720" height="420"><feGaussianBlur stdDeviation="4.2"/></filter>
<filter id="blurS" filterUnits="userSpaceOnUse" x="100" y="350" width="720" height="420"><feGaussianBlur stdDeviation="1.9"/></filter>
<filter id="blurL" filterUnits="userSpaceOnUse" x="100" y="350" width="720" height="420"><feGaussianBlur stdDeviation="1.2"/></filter>
<filter id="grain" filterUnits="userSpaceOnUse" x="150" y="394" width="610" height="326">
<feTurbulence type="fractalNoise" baseFrequency="0.35" numOctaves="2" seed="5" result="n"/>
<feColorMatrix in="n" type="matrix" values="0 0 0 0 0.5  0 0 0 0 0.5  0 0 0 0 0.5  1.1 0 0 0 -0.42"/>
</filter>
<linearGradient id="bgG" x1="0" y1="0" x2="0" y2="1">
<stop offset="0" stop-color="#bebebe"/><stop offset="0.3" stop-color="#c3c3c3"/><stop offset="0.62" stop-color="#c4c4c4"/><stop offset="1" stop-color="#bfbfbf"/>
</linearGradient>
<radialGradient id="bead" cx="0.45" cy="0.5" r="0.5">
<stop offset="0" stop-color="#b4b4b4"/><stop offset="0.3" stop-color="#9a9a9a"/><stop offset="0.8" stop-color="#8e8e8e"/><stop offset="1" stop-color="#9c9c9c"/>
</radialGradient>
</defs>
<g clip-path="url(#clipB)">
<rect x="154.0" y="398.1" width="599.2" height="315.9" fill="url(#bgG)"/>
<g filter="url(#blurL)">
<path d="M150,527 L217,527 L232,503 L676,503 L692,527 L757,527 L757,556 L690,573 L150,573 Z" fill="#d4d4d4"/>
<path d="M217,573 L690,573 L690,598 L217,598 Z" fill="#c8c8c8"/>
</g>
<path d="M150,549 L218,549 L218,573 L150,573 Z" fill="#dadada" filter="url(#blurL)"/>
<path d="M692,528 L757,528 L757,554 L692,554 Z" fill="#d8d8d8" filter="url(#blurL)"/>
<path d="M150,573 L217,573 L217,600 L165,700 L150,720 Z" fill="#cdcdcd" filter="url(#blurW2)"/>
<path d="M150,400 L160,400 L215,495 L217,527 L150,527 Z" fill="#cacaca" filter="url(#blurW2)"/>
<path d="M225,606 L690,606 L700,622 L215,622 Z" fill="#b6b6b6" filter="url(#blurW2)"/>
<g fill="none" stroke-linecap="round" stroke-linejoin="round">
<path d="M151,394 L160.6,410.9 L176.5,438.7 L189.7,458.6 L203,474.5 L211,485" stroke="#868686" stroke-width="9" filter="url(#blurW2)"/>
<path d="M699.7,494 L713,476 L726.2,458.8 L739.5,441.5 L750,427 L758,416" stroke="#9c9c9c" stroke-width="10" filter="url(#blurW2)"/>
<path d="M696,607 L704,614 L718.4,634.5 L738.3,666.3 L752.2,690.2 L760,704" stroke="#7a7a7a" stroke-width="9.5" filter="url(#blurW2)"/>
<path d="M226,603 L209.6,612.7 L195.7,634.5 L179.8,666.3 L161.9,698.1 L150,718" stroke="#a0a0a0" stroke-width="10" filter="url(#blurW2)"/>
<path d="M219,496.5 L228,499.6 L238,500.8 L678,500.8 L690,499.3 L697,496" stroke="#5e5e5e" stroke-width="11" filter="url(#blurW)"/>
<path d="M222,605 L234,601.8 L674.7,601.3 L686,603 L698.5,608.7" stroke="#5e5e5e" stroke-width="11" filter="url(#blurW)"/>
</g>
<g filter="url(#blurS)"><rect x="204.9" y="539.8" width="27.2" height="26" rx="10" ry="10" fill="#8c8c8c"/><ellipse cx="214.5" cy="552.4" rx="5.0" ry="3.6" fill="#b8b8b8"/></g>
<g filter="url(#blurS)"><rect x="288.0" y="539.8" width="27.2" height="26" rx="10" ry="10" fill="#8c8c8c"/><ellipse cx="297.6" cy="552.4" rx="5.0" ry="3.6" fill="#b8b8b8"/></g>
<g filter="url(#blurS)"><rect x="443.9" y="539.8" width="27.2" height="26" rx="10" ry="10" fill="#8c8c8c"/><ellipse cx="453.5" cy="552.4" rx="5.0" ry="3.6" fill="#b8b8b8"/></g>
<g filter="url(#blurS)"><rect x="597.3" y="539.8" width="27.2" height="26" rx="10" ry="10" fill="#8c8c8c"/><ellipse cx="606.9" cy="552.4" rx="5.0" ry="3.6" fill="#b8b8b8"/></g>
<g filter="url(#blurS)"><rect x="686.4" y="539.8" width="27.2" height="26" rx="10" ry="10" fill="#8c8c8c"/><ellipse cx="696.0" cy="552.4" rx="5.0" ry="3.6" fill="#b8b8b8"/></g>
<rect x="154.0" y="398.1" width="599.2" height="315.9" filter="url(#grain)" opacity="0.5"/>
</g>
<rect x="212.35" y="398.1" width="9.7" height="15.7" fill="#000"/>
<rect x="212.35" y="432.8" width="9.7" height="18.9" fill="#000"/>
<rect x="212.35" y="471.0" width="9.7" height="18.8" fill="#000"/>
<rect x="212.35" y="509.0" width="9.7" height="18.8" fill="#000"/>
<rect x="212.35" y="547.1" width="9.7" height="18.4" fill="#000"/>
<rect x="212.35" y="584.6" width="9.7" height="18.7" fill="#000"/>
<rect x="212.35" y="622.7" width="9.7" height="18.8" fill="#000"/>
<rect x="212.35" y="660.5" width="9.7" height="19.2" fill="#000"/>
<rect x="212.35" y="698.2" width="9.7" height="15.8" fill="#000"/>
<rect x="685.45" y="398.1" width="9.7" height="15.7" fill="#000"/>
<rect x="685.45" y="432.8" width="9.7" height="18.9" fill="#000"/>
<rect x="685.45" y="471.0" width="9.7" height="18.8" fill="#000"/>
<rect x="685.45" y="509.0" width="9.7" height="18.8" fill="#000"/>
<rect x="685.45" y="547.1" width="9.7" height="18.4" fill="#000"/>
<rect x="685.45" y="584.6" width="9.7" height="18.7" fill="#000"/>
<rect x="685.45" y="622.7" width="9.7" height="18.8" fill="#000"/>
<rect x="685.45" y="660.5" width="9.7" height="19.2" fill="#000"/>
<rect x="685.45" y="698.2" width="9.7" height="15.8" fill="#000"/>
<text x="225.5" y="537.6" text-anchor="start" font-size="32.0" fill="#1c1c1c" font-weight="normal" >a</text>
<text x="310.0" y="540.4" text-anchor="start" font-size="32.0" fill="#1c1c1c" font-weight="normal" >b</text>
<text x="438.3" y="545.9" text-anchor="start" font-size="32.0" fill="#1c1c1c" font-weight="normal" >c</text>
<text x="575.2" y="552.0" text-anchor="start" font-size="32.0" fill="#1c1c1c" font-weight="normal" >b'</text>
<text x="663.9" y="554.8" text-anchor="start" font-size="32.0" fill="#1c1c1c" font-weight="normal" >a'</text>
<text x="268.9" y="706.9" text-anchor="start" font-size="31.6" fill="#1c1c1c" font-weight="normal" >Entrance</text>
<text x="585.4" y="704.6" text-anchor="start" font-size="31.6" fill="#1c1c1c" font-weight="normal" >Exit</text>
<text x="238.6" y="711.2" text-anchor="middle" font-size="39.5" fill="#1c1c1c" font-family="'DejaVu Sans Light','DejaVu Sans',sans-serif" font-weight="200">←</text>
<text x="668.6" y="709.2" text-anchor="middle" font-size="39.5" fill="#1c1c1c" font-family="'DejaVu Sans Light','DejaVu Sans',sans-serif" font-weight="200">→</text>
<rect x="154.00" y="398.10" width="599.20" height="315.90" fill="none" stroke="#262626" stroke-width="3.7"/>
<line x1="134.85" y1="418.20" x2="152.65" y2="418.20" stroke="#262626" stroke-width="2.8" stroke-linecap="butt" />
<line x1="754.55" y1="418.20" x2="772.35" y2="418.20" stroke="#262626" stroke-width="2.8" stroke-linecap="butt" />
<line x1="134.85" y1="486.90" x2="152.65" y2="486.90" stroke="#262626" stroke-width="2.8" stroke-linecap="butt" />
<line x1="754.55" y1="486.90" x2="772.35" y2="486.90" stroke="#262626" stroke-width="2.8" stroke-linecap="butt" />
<line x1="134.85" y1="555.60" x2="152.65" y2="555.60" stroke="#262626" stroke-width="2.8" stroke-linecap="butt" />
<line x1="754.55" y1="555.60" x2="772.35" y2="555.60" stroke="#262626" stroke-width="2.8" stroke-linecap="butt" />
<line x1="134.85" y1="624.30" x2="152.65" y2="624.30" stroke="#262626" stroke-width="2.8" stroke-linecap="butt" />
<line x1="754.55" y1="624.30" x2="772.35" y2="624.30" stroke="#262626" stroke-width="2.8" stroke-linecap="butt" />
<line x1="134.85" y1="693.00" x2="152.65" y2="693.00" stroke="#262626" stroke-width="2.8" stroke-linecap="butt" />
<line x1="754.55" y1="693.00" x2="772.35" y2="693.00" stroke="#262626" stroke-width="2.8" stroke-linecap="butt" />
<text x="113.2" y="426.5" text-anchor="end" font-size="32.0" fill="#1c1c1c" font-weight="normal" >50</text>
<text x="113.2" y="495.2" text-anchor="end" font-size="32.0" fill="#1c1c1c" font-weight="normal" >25</text>
<text x="113.2" y="563.9" text-anchor="end" font-size="32.0" fill="#1c1c1c" font-weight="normal" >0</text>
<text x="113.2" y="632.6" text-anchor="end" font-size="32.0" fill="#1c1c1c" font-weight="normal" >-25</text>
<text x="113.2" y="701.3" text-anchor="end" font-size="32.0" fill="#1c1c1c" font-weight="normal" >-50</text>
<line x1="217.00" y1="715.35" x2="217.00" y2="733.15" stroke="#262626" stroke-width="2.8" stroke-linecap="butt" />
<line x1="311.64" y1="715.35" x2="311.64" y2="733.15" stroke="#262626" stroke-width="2.8" stroke-linecap="butt" />
<line x1="406.28" y1="715.35" x2="406.28" y2="733.15" stroke="#262626" stroke-width="2.8" stroke-linecap="butt" />
<line x1="500.92" y1="715.35" x2="500.92" y2="733.15" stroke="#262626" stroke-width="2.8" stroke-linecap="butt" />
<line x1="595.56" y1="715.35" x2="595.56" y2="733.15" stroke="#262626" stroke-width="2.8" stroke-linecap="butt" />
<line x1="690.20" y1="715.35" x2="690.20" y2="733.15" stroke="#262626" stroke-width="2.8" stroke-linecap="butt" />
<text x="217.0" y="779.0" text-anchor="middle" font-size="32.0" fill="#1c1c1c" font-weight="normal" >0</text>
<text x="311.6" y="779.0" text-anchor="middle" font-size="32.0" fill="#1c1c1c" font-weight="normal" >30</text>
<text x="406.3" y="779.0" text-anchor="middle" font-size="32.0" fill="#1c1c1c" font-weight="normal" >60</text>
<text x="500.9" y="779.0" text-anchor="middle" font-size="32.0" fill="#1c1c1c" font-weight="normal" >90</text>
<text x="595.6" y="779.0" text-anchor="middle" font-size="32.0" fill="#1c1c1c" font-weight="normal" >120</text>
<text x="690.2" y="779.0" text-anchor="middle" font-size="32.0" fill="#1c1c1c" font-weight="normal" >150</text>
<text x="5.2" y="430.4" text-anchor="start" font-size="44" fill="#e5161a" font-weight="bold" class="pl">b</text>
<text transform="translate(453.5,823.0)" text-anchor="middle" font-size="32" fill="#1c1c1c">x<tspan dx="0.6" dy="4.0" font-size="22.4">c</tspan><tspan dx="1.6" dy="-4.0"> (μm)</tspan></text>
<text transform="translate(39.4,557.5) rotate(-90)" text-anchor="middle" font-size="31.6" fill="#1c1c1c">y<tspan dx="0.6" dy="4.0" font-size="22.4">c</tspan><tspan dx="1.6" dy="-4.0"> (μm)</tspan></text>
<clipPath id="clipC"><rect x="957.50" y="31.30" width="598.50" height="682.70"/></clipPath>
<path d="M958.0,97.1 L959.8,158.2 L961.5,101.6 L963.2,194.3 L965.0,98.5 L966.8,347.5 L968.5,70.3 L970.2,175.0 L972.0,57.6 L973.8,168.0 L975.5,86.6 L977.2,168.8 L979.0,99.9 L980.8,270.0 L982.5,66.7 L984.2,153.8 L986.0,39.0 L987.8,159.7 L989.5,74.5 L991.2,153.8 L993.0,102.9 L994.8,167.9 L996.5,73.9 L998.2,220.0 L1000.0,31.2 L1001.8,154.0 L1003.5,47.2 L1005.2,152.1 L1007.0,81.1 L1008.8,166.2 L1010.5,102.5 L1012.2,212.5 L1014.0,65.0 L1015.8,164.9 L1017.5,24.0 L1019.2,143.7 L1021.0,62.4 L1022.8,164.8 L1024.5,103.7 L1026.2,170.7 L1028.0,101.4 L1029.8,262.5 L1031.5,75.0 L1033.2,183.2 L1035.0,87.7 L1036.8,159.9 L1038.5,117.1 L1040.2,187.8 L1042.0,106.6 L1043.8,193.5 L1045.5,74.1 L1047.2,340.0 L1049.0,52.5 L1050.8,206.8 L1052.5,100.5 L1054.2,192.2 L1056.0,129.6 L1057.8,231.5 L1059.5,78.7 L1061.2,375.0 L1063.0,33.2 L1064.8,208.9 L1066.5,57.8 L1068.2,172.8 L1070.0,109.5 L1071.8,199.7 L1073.5,129.9 L1075.2,255.0 L1077.0,74.8 L1078.8,195.8 L1080.5,29.6 L1082.2,187.3 L1084.0,68.8 L1085.8,196.3 L1087.5,115.2 L1089.2,196.2 L1091.0,147.7 L1092.8,212.1 L1094.5,126.1 L1096.2,305.0 L1098.0,105.4 L1099.8,200.6 L1101.5,135.5 L1103.2,237.6 L1105.0,162.0 L1106.8,270.8 L1108.5,126.4 L1110.2,445.8 L1112.0,80.0 L1113.8,248.0 L1115.5,130.5 L1117.2,258.4 L1119.0,188.2 L1120.8,276.7 L1122.5,219.2 L1124.2,330.0 L1126.0,194.0 L1127.8,261.1 L1129.5,155.3 L1131.2,286.2 L1133.0,191.8 L1134.8,345.9 L1136.5,234.9 L1138.2,382.9 L1140.0,263.8 L1141.8,500.7 L1143.5,241.5 L1145.2,357.1 L1147.0,267.8 L1148.8,382.0 L1150.5,304.4 L1152.2,397.4 L1154.0,353.0 L1155.8,453.0 L1157.5,366.1 L1159.2,403.5 L1161.0,367.9 L1162.8,418.5 L1164.5,360.3 L1166.2,435.6 L1168.0,351.0 L1169.8,459.8 L1171.5,380.2 L1173.2,522.4 L1175.0,388.6 L1176.8,435.8 L1178.5,381.5 L1180.2,450.8 L1182.0,363.9 L1183.8,460.6 L1185.5,387.5 L1187.2,451.9 L1189.0,405.9 L1190.8,472.3 L1192.5,417.9 L1194.2,606.2 L1196.0,381.7 L1197.8,462.2 L1199.5,340.2 L1201.2,462.6 L1203.0,328.8 L1204.8,484.9 L1206.5,381.0 L1208.2,505.0 L1210.0,392.1 L1211.8,662.5 L1213.5,347.7 L1215.2,486.5 L1217.0,372.8 L1218.8,476.0 L1220.5,398.3 L1222.2,468.0 L1224.0,416.2 L1225.8,511.7 L1227.5,414.1 L1229.2,662.5 L1231.0,394.9 L1232.8,477.2 L1234.5,369.2 L1236.2,479.4 L1238.0,395.0 L1239.8,469.3 L1241.5,413.5 L1243.2,485.5 L1245.0,416.4 L1246.8,662.5 L1248.5,414.8 L1250.2,469.0 L1252.0,382.9 L1253.8,462.0 L1255.5,355.9 L1257.2,452.9 L1259.0,384.2 L1260.8,453.7 L1262.5,405.6 L1264.2,489.5 L1266.0,394.3 L1267.8,606.2 L1269.5,366.6 L1271.2,462.4 L1273.0,346.8 L1274.8,452.3 L1276.5,384.3 L1278.2,469.7 L1280.0,415.6 L1281.8,461.1 L1283.5,397.9 L1285.2,564.3 L1287.0,381.6 L1288.8,463.2 L1290.5,365.3 L1292.2,493.5 L1294.0,393.0 L1295.8,441.7 L1297.5,416.2 L1299.2,439.6 L1301.0,407.0 L1302.8,443.9 L1304.5,385.7 L1306.2,480.0 L1308.0,377.6 L1309.8,436.9 L1311.5,397.3 L1313.2,466.6 L1315.0,398.1 L1316.8,448.2 L1318.5,390.7 L1320.2,468.8 L1322.0,374.6 L1323.8,586.0 L1325.5,358.5 L1327.2,469.7 L1329.0,331.3 L1330.8,429.7 L1332.5,350.6 L1334.2,467.5 L1336.0,370.8 L1337.8,443.8 L1339.5,378.1 L1341.2,419.6 L1343.0,345.1 L1344.8,460.2 L1346.5,296.2 L1348.2,401.8 L1350.0,303.1 L1351.8,383.0 L1353.5,321.1 L1355.2,353.7 L1357.0,279.9 L1358.8,360.3 L1360.5,238.9 L1362.2,425.0 L1364.0,207.0 L1365.8,335.5 L1367.5,241.6 L1369.2,319.3 L1371.0,260.4 L1372.8,295.9 L1374.5,250.8 L1376.2,293.0 L1378.0,202.1 L1379.8,297.2 L1381.5,165.3 L1383.2,395.0 L1385.0,136.1 L1386.8,269.8 L1388.5,173.8 L1390.2,226.9 L1392.0,180.2 L1393.8,252.1 L1395.5,153.0 L1397.2,233.7 L1399.0,142.1 L1400.8,241.2 L1402.5,118.7 L1404.2,325.0 L1406.0,94.2 L1407.8,227.2 L1409.5,127.1 L1411.2,194.3 L1413.0,143.0 L1414.8,193.4 L1416.5,148.9 L1418.2,245.9 L1420.0,137.4 L1421.8,410.0 L1423.5,96.0 L1425.2,205.3 L1427.0,64.0 L1428.8,172.7 L1430.5,89.7 L1432.2,190.1 L1434.0,117.0 L1435.8,168.2 L1437.5,134.7 L1439.2,173.4 L1441.0,124.5 L1442.8,227.4 L1444.5,101.9 L1446.2,360.0 L1448.0,68.3 L1449.8,206.7 L1451.5,58.5 L1453.2,180.1 L1455.0,96.6 L1456.8,162.0 L1458.5,105.9 L1460.2,166.2 L1462.0,118.1 L1463.8,156.8 L1465.5,104.9 L1467.2,212.5 L1469.0,75.6 L1470.8,149.1 L1472.5,40.0 L1474.2,160.9 L1476.0,69.6 L1477.8,143.2 L1479.5,105.6 L1481.2,162.3 L1483.0,112.3 L1484.8,207.4 L1486.5,112.7 L1488.2,325.0 L1490.0,75.0 L1491.8,164.2 L1493.5,31.2 L1495.2,155.9 L1497.0,49.3 L1498.8,171.4 L1500.5,78.0 L1502.2,139.3 L1504.0,105.2 L1505.8,147.0 L1507.5,113.3 L1509.2,172.5 L1511.0,91.4 L1512.8,270.0 L1514.5,53.2 L1516.2,162.8 L1518.0,27.9 L1519.8,131.8 L1521.5,58.0 L1523.2,158.9 L1525.0,98.2 L1526.8,160.4 L1528.5,95.1 L1530.2,138.7 L1532.0,97.0 L1533.8,146.1 L1535.5,67.0 L1537.2,247.5 L1539.0,32.2 L1540.8,160.3 L1542.5,51.6 L1544.2,148.0 L1546.0,77.8 L1547.8,143.4 L1549.5,97.7 L1551.2,159.1 L1553.0,108.6 L1554.8,180.0 L1556.5,106.7" fill="none" stroke="#adadad" stroke-width="5.0" stroke-linejoin="round" stroke-linecap="round" clip-path="url(#clipC)"/>
<path d="M957.5,125.6 L958.8,125.6 L960.7,125.5 L962.8,125.5 L965.2,125.4 L967.6,125.3 L970.0,125.3 L972.3,125.2 L974.7,125.2 L977.2,125.1 L979.7,125.0 L982.2,125.1 L984.8,125.2 L987.4,125.4 L990.1,125.7 L992.8,126.0 L995.5,126.4 L998.3,126.9 L1001.0,127.5 L1003.8,128.1 L1006.6,128.8 L1009.4,129.6 L1012.2,130.5 L1015.0,131.5 L1017.6,132.6 L1020.2,133.9 L1022.7,135.4 L1025.2,137.1 L1027.6,138.7 L1029.9,140.3 L1032.0,141.8 L1033.9,143.1 L1035.6,144.4 L1037.2,145.7 L1038.8,146.8 L1040.4,147.9 L1042.0,149.0 L1043.7,150.0 L1045.5,151.0 L1047.2,151.9 L1049.0,152.7 L1050.8,153.5 L1052.5,154.1 L1054.2,154.6 L1055.9,155.0 L1057.6,155.3 L1059.3,155.5 L1061.0,155.7 L1062.7,155.9 L1064.4,156.0 L1066.2,156.0 L1068.0,156.0 L1069.7,156.0 L1071.4,156.1 L1073.0,156.3 L1074.5,156.6 L1075.8,156.8 L1077.1,157.2 L1078.4,157.7 L1079.7,158.3 L1081.0,159.2 L1082.4,160.3 L1083.7,161.6 L1085.1,163.1 L1086.5,164.7 L1087.9,166.5 L1089.3,168.4 L1090.7,170.5 L1092.0,172.8 L1093.3,175.2 L1094.7,177.7 L1096.1,180.2 L1097.5,182.8 L1099.0,185.2 L1100.4,187.4 L1101.9,189.7 L1103.4,192.2 L1105.1,195.2 L1107.0,198.9 L1109.2,203.4 L1111.6,208.5 L1114.2,214.2 L1116.8,220.0 L1119.2,225.9 L1121.5,231.5 L1123.5,236.8 L1125.4,242.1 L1127.2,247.3 L1129.0,252.6 L1130.6,258.2 L1132.3,264.0 L1133.9,270.3 L1135.5,276.9 L1137.0,283.7 L1138.5,290.5 L1139.9,297.3 L1141.3,303.8 L1142.6,310.0 L1143.8,316.1 L1144.9,322.1 L1146.1,328.0 L1147.3,333.9 L1148.6,339.9 L1150.0,346.0 L1151.4,352.2 L1152.9,358.4 L1154.4,364.6 L1156.0,370.5 L1157.6,376.1 L1159.3,381.4 L1161.0,386.5 L1162.7,391.5 L1164.5,396.2 L1166.5,400.7 L1168.5,405.0 L1170.6,409.1 L1172.8,413.1 L1175.0,416.9 L1177.4,420.4 L1180.0,423.7 L1182.9,426.7 L1186.1,429.4 L1189.7,431.9 L1193.5,434.2 L1197.4,436.2 L1201.1,437.9 L1204.6,439.3 L1207.8,440.4 L1210.9,441.2 L1213.9,441.8 L1216.8,442.1 L1219.7,442.1 L1222.7,441.9 L1225.7,441.4 L1228.7,440.5 L1231.8,439.3 L1234.8,438.0 L1237.8,436.8 L1240.8,435.7 L1243.8,434.7 L1246.8,433.7 L1249.8,432.8 L1252.8,431.9 L1255.8,431.0 L1258.8,430.3 L1261.7,429.7 L1264.4,429.1 L1267.2,428.6 L1270.1,428.2 L1273.3,427.8 L1276.9,427.4 L1281.3,427.1 L1286.3,426.9 L1291.6,426.7 L1296.8,426.5 L1301.7,426.3 L1305.8,426.0 L1309.0,425.7 L1311.7,425.6 L1314.0,425.4 L1316.0,425.0 L1318.0,424.3 L1320.3,423.1 L1322.8,421.5 L1325.3,419.5 L1327.8,417.2 L1330.2,414.7 L1332.6,411.8 L1334.8,408.6 L1336.9,405.1 L1338.8,401.2 L1340.7,397.1 L1342.4,392.7 L1344.1,388.1 L1345.6,383.3 L1347.0,378.3 L1348.3,373.0 L1349.4,367.5 L1350.5,361.9 L1351.6,356.3 L1352.8,350.8 L1354.0,345.4 L1355.2,339.9 L1356.4,334.5 L1357.6,329.1 L1358.8,323.6 L1360.0,318.2 L1361.2,312.8 L1362.3,307.4 L1363.5,301.9 L1364.7,296.5 L1365.9,291.1 L1367.3,285.7 L1368.8,280.3 L1370.4,274.9 L1372.0,269.5 L1373.8,264.0 L1375.5,258.6 L1377.3,253.2 L1379.1,247.7 L1380.9,242.2 L1382.8,236.6 L1384.7,231.2 L1386.6,225.8 L1388.6,220.6 L1390.6,215.6 L1392.5,210.7 L1394.5,205.9 L1396.6,201.3 L1398.6,196.7 L1400.8,192.3 L1403.0,188.0 L1405.2,183.7 L1407.4,179.6 L1409.8,175.6 L1412.3,171.7 L1415.0,168.0 L1418.0,164.4 L1421.2,160.9 L1424.6,157.5 L1428.1,154.3 L1431.6,151.3 L1435.0,148.5 L1438.3,145.9 L1441.7,143.6 L1445.0,141.4 L1448.3,139.4 L1451.7,137.6 L1455.0,136.0 L1458.3,134.6 L1461.7,133.4 L1465.0,132.4 L1468.3,131.5 L1471.7,130.8 L1475.0,130.0 L1478.4,129.3 L1481.9,128.8 L1485.3,128.4 L1488.7,128.0 L1492.0,127.6 L1495.0,127.0 L1497.8,126.4 L1500.4,125.7 L1502.8,125.0 L1505.2,124.2 L1507.6,123.4 L1510.0,122.5 L1512.5,121.5 L1515.0,120.3 L1517.5,119.1 L1520.0,117.9 L1522.5,116.8 L1525.0,116.0 L1527.5,115.4 L1530.0,115.0 L1532.4,114.7 L1534.9,114.5 L1537.4,114.4 L1540.0,114.5 L1542.8,114.8 L1545.9,115.3 L1548.9,115.9 L1551.8,116.6 L1554.2,117.1 L1556.0,117.5" fill="none" stroke="#d3494e" stroke-width="10" stroke-linejoin="round" stroke-linecap="butt" clip-path="url(#clipC)"/>
<path d="M1129.9,309.6 L1160.3,340.0 M1129.9,340.0 L1160.3,309.6" stroke="#000" stroke-width="10.5" fill="none" stroke-linecap="butt"/>
<path d="M1170.0,413.6 L1200.4,444.0 M1170.0,444.0 L1200.4,413.6" stroke="#000" stroke-width="10.5" fill="none" stroke-linecap="butt"/>
<path d="M1236.4,417.7 L1266.8,448.1 M1236.4,448.1 L1266.8,417.7" stroke="#000" stroke-width="10.5" fill="none" stroke-linecap="butt"/>
<path d="M1307.0,408.9 L1337.4,439.3 M1307.0,439.3 L1337.4,408.9" stroke="#000" stroke-width="10.5" fill="none" stroke-linecap="butt"/>
<path d="M1346.2,300.7 L1376.6,331.1 M1346.2,331.1 L1376.6,300.7" stroke="#000" stroke-width="10.5" fill="none" stroke-linecap="butt"/>
<text x="1092.6" y="374.7" text-anchor="start" font-size="32.0" fill="#1c1c1c" font-weight="normal" >a</text>
<text x="1133.5" y="478.5" text-anchor="start" font-size="32.0" fill="#1c1c1c" font-weight="normal" >b</text>
<text x="1243.2" y="482.8" text-anchor="start" font-size="32.0" fill="#1c1c1c" font-weight="normal" >c</text>
<text x="1356.1" y="473.4" text-anchor="start" font-size="32.0" fill="#1c1c1c" font-weight="normal" >b'</text>
<text x="1394.9" y="365.9" text-anchor="start" font-size="32.0" fill="#1c1c1c" font-weight="normal" >a'</text>
<rect x="957.50" y="31.30" width="598.50" height="682.70" fill="none" stroke="#262626" stroke-width="3.7"/>
<line x1="938.35" y1="31.30" x2="956.15" y2="31.30" stroke="#262626" stroke-width="2.8" stroke-linecap="butt" />
<line x1="1557.35" y1="31.30" x2="1575.15" y2="31.30" stroke="#262626" stroke-width="2.8" stroke-linecap="butt" />
<line x1="938.35" y1="122.40" x2="956.15" y2="122.40" stroke="#262626" stroke-width="2.8" stroke-linecap="butt" />
<line x1="1557.35" y1="122.40" x2="1575.15" y2="122.40" stroke="#262626" stroke-width="2.8" stroke-linecap="butt" />
<line x1="938.35" y1="213.50" x2="956.15" y2="213.50" stroke="#262626" stroke-width="2.8" stroke-linecap="butt" />
<line x1="1557.35" y1="213.50" x2="1575.15" y2="213.50" stroke="#262626" stroke-width="2.8" stroke-linecap="butt" />
<line x1="938.35" y1="304.60" x2="956.15" y2="304.60" stroke="#262626" stroke-width="2.8" stroke-linecap="butt" />
<line x1="1557.35" y1="304.60" x2="1575.15" y2="304.60" stroke="#262626" stroke-width="2.8" stroke-linecap="butt" />
<line x1="938.35" y1="395.70" x2="956.15" y2="395.70" stroke="#262626" stroke-width="2.8" stroke-linecap="butt" />
<line x1="1557.35" y1="395.70" x2="1575.15" y2="395.70" stroke="#262626" stroke-width="2.8" stroke-linecap="butt" />
<line x1="938.35" y1="486.80" x2="956.15" y2="486.80" stroke="#262626" stroke-width="2.8" stroke-linecap="butt" />
<line x1="1557.35" y1="486.80" x2="1575.15" y2="486.80" stroke="#262626" stroke-width="2.8" stroke-linecap="butt" />
<line x1="938.35" y1="577.90" x2="956.15" y2="577.90" stroke="#262626" stroke-width="2.8" stroke-linecap="butt" />
<line x1="1557.35" y1="577.90" x2="1575.15" y2="577.90" stroke="#262626" stroke-width="2.8" stroke-linecap="butt" />
<line x1="938.35" y1="669.00" x2="956.15" y2="669.00" stroke="#262626" stroke-width="2.8" stroke-linecap="butt" />
<line x1="1557.35" y1="669.00" x2="1575.15" y2="669.00" stroke="#262626" stroke-width="2.8" stroke-linecap="butt" />
<text x="916.0" y="39.6" text-anchor="end" font-size="32.0" fill="#1c1c1c" font-weight="normal" >0.5</text>
<text x="916.0" y="130.7" text-anchor="end" font-size="32.0" fill="#1c1c1c" font-weight="normal" >0.0</text>
<text x="916.0" y="221.8" text-anchor="end" font-size="32.0" fill="#1c1c1c" font-weight="normal" >−0.5</text>
<text x="916.0" y="312.9" text-anchor="end" font-size="32.0" fill="#1c1c1c" font-weight="normal" >−1.0</text>
<text x="916.0" y="404.0" text-anchor="end" font-size="32.0" fill="#1c1c1c" font-weight="normal" >−1.5</text>
<text x="916.0" y="495.1" text-anchor="end" font-size="32.0" fill="#1c1c1c" font-weight="normal" >−2.0</text>
<text x="916.0" y="586.2" text-anchor="end" font-size="32.0" fill="#1c1c1c" font-weight="normal" >−2.5</text>
<text x="916.0" y="677.3" text-anchor="end" font-size="32.0" fill="#1c1c1c" font-weight="normal" >−3.0</text>
<line x1="957.50" y1="715.35" x2="957.50" y2="733.15" stroke="#262626" stroke-width="2.8" stroke-linecap="butt" />
<line x1="957.50" y1="29.95" x2="957.50" y2="12.15" stroke="#262626" stroke-width="2.8" stroke-linecap="butt" />
<line x1="1095.76" y1="715.35" x2="1095.76" y2="733.15" stroke="#262626" stroke-width="2.8" stroke-linecap="butt" />
<line x1="1095.76" y1="29.95" x2="1095.76" y2="12.15" stroke="#262626" stroke-width="2.8" stroke-linecap="butt" />
<line x1="1234.02" y1="715.35" x2="1234.02" y2="733.15" stroke="#262626" stroke-width="2.8" stroke-linecap="butt" />
<line x1="1234.02" y1="29.95" x2="1234.02" y2="12.15" stroke="#262626" stroke-width="2.8" stroke-linecap="butt" />
<line x1="1372.28" y1="715.35" x2="1372.28" y2="733.15" stroke="#262626" stroke-width="2.8" stroke-linecap="butt" />
<line x1="1372.28" y1="29.95" x2="1372.28" y2="12.15" stroke="#262626" stroke-width="2.8" stroke-linecap="butt" />
<line x1="1510.54" y1="715.35" x2="1510.54" y2="733.15" stroke="#262626" stroke-width="2.8" stroke-linecap="butt" />
<line x1="1510.54" y1="29.95" x2="1510.54" y2="12.15" stroke="#262626" stroke-width="2.8" stroke-linecap="butt" />
<text x="957.5" y="779.0" text-anchor="middle" font-size="32.0" fill="#1c1c1c" font-weight="normal" >0.0</text>
<text x="1095.8" y="779.0" text-anchor="middle" font-size="32.0" fill="#1c1c1c" font-weight="normal" >0.4</text>
<text x="1234.0" y="779.0" text-anchor="middle" font-size="32.0" fill="#1c1c1c" font-weight="normal" >0.8</text>
<text x="1372.3" y="779.0" text-anchor="middle" font-size="32.0" fill="#1c1c1c" font-weight="normal" >1.2</text>
<text x="1510.5" y="779.0" text-anchor="middle" font-size="32.0" fill="#1c1c1c" font-weight="normal" >1.6</text>
<text x="955.8" y="21.9" text-anchor="start" font-size="32.0" fill="#1c1c1c" font-weight="normal" >1e−3</text>
<text x="1556.5" y="817.8" text-anchor="end" font-size="32.0" fill="#1c1c1c" font-weight="normal" >1e−3</text>
<text x="1257.0" y="822.5" text-anchor="middle" font-size="32.0" fill="#1c1c1c" font-weight="normal" >Time (s)</text>
<text x="807.5" y="64.2" text-anchor="start" font-size="44" fill="#e5161a" font-weight="bold" class="pl">c</text>
<text transform="translate(826.0,404.5) rotate(-90)" font-size="31.6" fill="#1c1c1c">ΔI/I<tspan dx="0.5" dy="3.5" font-size="22.1">p</tspan></text>
</svg>
</body>
</html>
